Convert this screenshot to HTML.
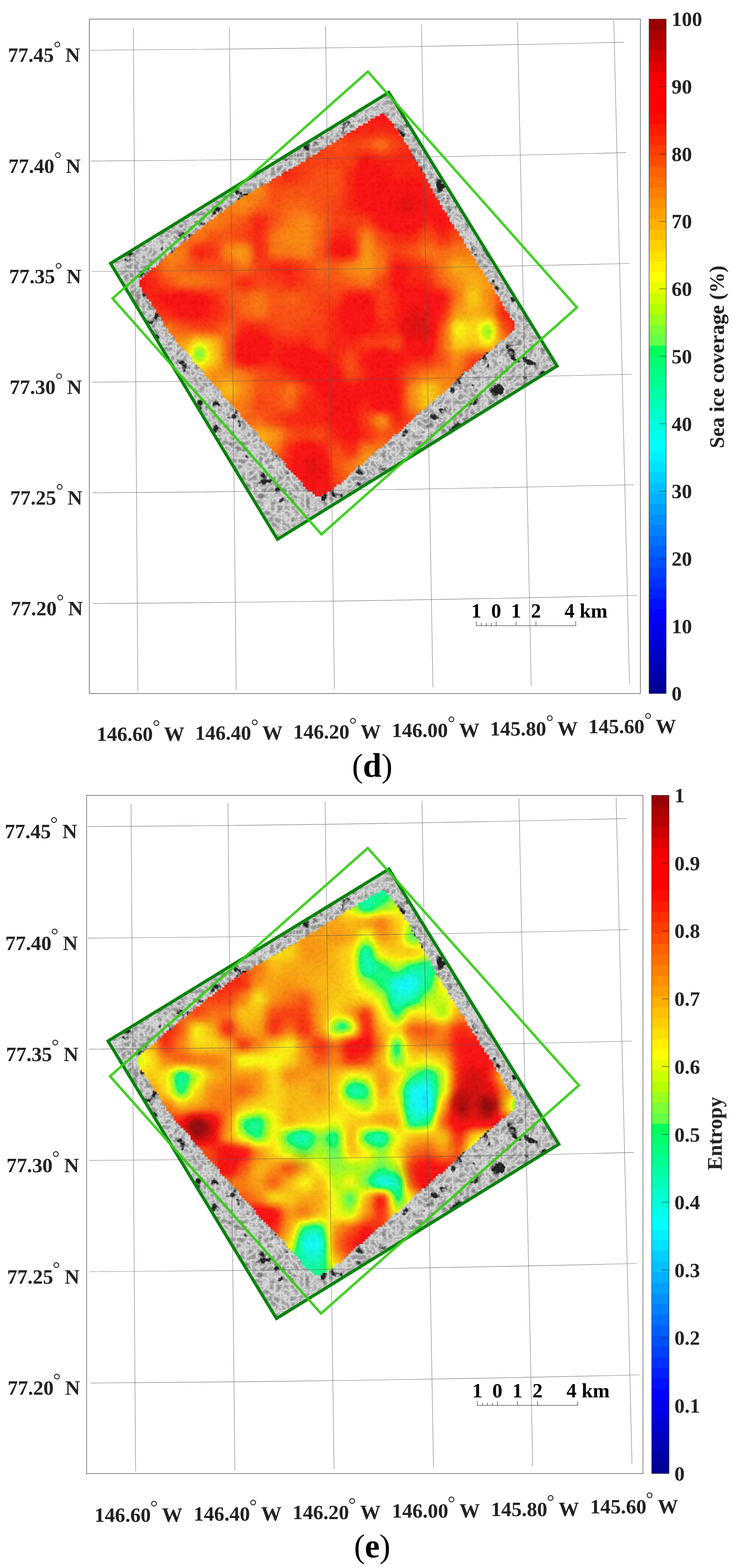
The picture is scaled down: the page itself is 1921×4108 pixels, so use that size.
<!DOCTYPE html>
<html lang="en"><head><meta charset="utf-8"><title>Sea ice coverage and entropy maps</title>
<style>html,body{margin:0;padding:0;background:#fff}body{width:1921px;height:4108px;overflow:hidden}svg{display:block}</style>
</head><body>
<svg width="1921" height="4108" viewBox="0 0 1921 4108" role="img" aria-label="Sea ice coverage and entropy maps">
<defs>
<clipPath id="clipDG"><polygon points="1019.0,242.0 1460.0,959.0 727.0,1413.0 289.8,690.0"/></clipPath>
<clipPath id="clipHM"><rect x="995.4" y="297.9" width="12.6" height="7.5"/><rect x="982.8" y="304.2" width="31.5" height="7.5"/><rect x="970.2" y="310.5" width="50.4" height="7.5"/><rect x="963.9" y="316.8" width="63.0" height="7.5"/><rect x="951.3" y="323.1" width="81.9" height="7.5"/><rect x="938.7" y="329.4" width="94.5" height="7.5"/><rect x="932.4" y="335.7" width="107.1" height="7.5"/><rect x="919.8" y="342.0" width="126.0" height="7.5"/><rect x="907.2" y="348.3" width="138.6" height="7.5"/><rect x="900.9" y="354.6" width="151.2" height="7.5"/><rect x="888.3" y="360.9" width="170.1" height="7.5"/><rect x="882.0" y="367.2" width="176.4" height="7.5"/><rect x="869.4" y="373.5" width="195.3" height="7.5"/><rect x="856.8" y="379.8" width="214.2" height="7.5"/><rect x="850.5" y="386.1" width="220.5" height="7.5"/><rect x="837.9" y="392.4" width="239.4" height="7.5"/><rect x="831.6" y="398.7" width="245.7" height="7.5"/><rect x="819.0" y="405.0" width="264.6" height="7.5"/><rect x="806.4" y="411.3" width="277.2" height="7.5"/><rect x="800.1" y="417.6" width="289.8" height="7.5"/><rect x="787.5" y="423.9" width="308.7" height="7.5"/><rect x="781.2" y="430.2" width="315.0" height="7.5"/><rect x="768.6" y="436.5" width="333.9" height="7.5"/><rect x="756.0" y="442.8" width="346.5" height="7.5"/><rect x="743.4" y="449.1" width="365.4" height="7.5"/><rect x="737.1" y="455.4" width="378.0" height="7.5"/><rect x="724.5" y="461.7" width="390.6" height="7.5"/><rect x="711.9" y="468.0" width="409.5" height="7.5"/><rect x="705.6" y="474.3" width="415.8" height="7.5"/><rect x="693.0" y="480.6" width="434.7" height="7.5"/><rect x="680.4" y="486.9" width="447.3" height="7.5"/><rect x="667.8" y="493.2" width="466.2" height="7.5"/><rect x="661.5" y="499.5" width="472.5" height="7.5"/><rect x="648.9" y="505.8" width="491.4" height="7.5"/><rect x="636.3" y="512.1" width="504.0" height="7.5"/><rect x="630.0" y="518.4" width="516.6" height="7.5"/><rect x="617.4" y="524.7" width="535.5" height="7.5"/><rect x="611.1" y="531.0" width="541.8" height="7.5"/><rect x="598.5" y="537.3" width="560.7" height="7.5"/><rect x="592.2" y="543.6" width="567.0" height="7.5"/><rect x="585.9" y="549.9" width="579.6" height="7.5"/><rect x="573.3" y="556.2" width="598.5" height="7.5"/><rect x="567.0" y="562.5" width="604.8" height="7.5"/><rect x="560.7" y="568.8" width="617.4" height="7.5"/><rect x="548.1" y="575.0" width="630.0" height="7.5"/><rect x="541.8" y="581.3" width="642.6" height="7.5"/><rect x="535.5" y="587.6" width="655.2" height="7.5"/><rect x="529.2" y="593.9" width="661.5" height="7.5"/><rect x="516.6" y="600.2" width="680.4" height="7.5"/><rect x="510.3" y="606.5" width="693.0" height="7.5"/><rect x="504.0" y="612.8" width="699.3" height="7.5"/><rect x="497.7" y="619.1" width="711.9" height="7.5"/><rect x="491.4" y="625.4" width="724.5" height="7.5"/><rect x="478.8" y="631.7" width="737.1" height="7.5"/><rect x="472.5" y="638.0" width="749.7" height="7.5"/><rect x="466.2" y="644.3" width="756.0" height="7.5"/><rect x="459.9" y="650.6" width="768.6" height="7.5"/><rect x="453.6" y="656.9" width="781.2" height="7.5"/><rect x="441.0" y="663.2" width="793.8" height="7.5"/><rect x="434.7" y="669.5" width="806.4" height="7.5"/><rect x="428.4" y="675.8" width="819.0" height="7.5"/><rect x="422.1" y="682.1" width="825.3" height="7.5"/><rect x="415.8" y="688.4" width="837.9" height="7.5"/><rect x="409.5" y="694.7" width="844.2" height="7.5"/><rect x="396.9" y="701.0" width="863.1" height="7.5"/><rect x="390.6" y="707.3" width="875.7" height="7.5"/><rect x="384.3" y="713.6" width="882.0" height="7.5"/><rect x="378.0" y="719.9" width="894.6" height="7.5"/><rect x="371.7" y="726.2" width="907.2" height="7.5"/><rect x="365.4" y="732.5" width="913.5" height="7.5"/><rect x="365.4" y="738.8" width="919.8" height="7.5"/><rect x="365.4" y="745.1" width="926.1" height="7.5"/><rect x="371.7" y="751.4" width="919.8" height="7.5"/><rect x="371.7" y="757.7" width="926.1" height="7.5"/><rect x="378.0" y="764.0" width="919.8" height="7.5"/><rect x="384.3" y="770.3" width="919.8" height="7.5"/><rect x="384.3" y="776.6" width="926.1" height="7.5"/><rect x="390.6" y="782.9" width="919.8" height="7.5"/><rect x="396.9" y="789.2" width="919.8" height="7.5"/><rect x="396.9" y="795.5" width="919.8" height="7.5"/><rect x="403.2" y="801.8" width="919.8" height="7.5"/><rect x="409.5" y="808.1" width="913.5" height="7.5"/><rect x="409.5" y="814.4" width="919.8" height="7.5"/><rect x="415.8" y="820.7" width="919.8" height="7.5"/><rect x="422.1" y="827.0" width="913.5" height="7.5"/><rect x="422.1" y="833.3" width="919.8" height="7.5"/><rect x="428.4" y="839.6" width="919.8" height="7.5"/><rect x="428.4" y="845.9" width="919.8" height="7.5"/><rect x="434.7" y="852.2" width="913.5" height="7.5"/><rect x="441.0" y="858.5" width="907.2" height="7.5"/><rect x="441.0" y="864.8" width="900.9" height="7.5"/><rect x="447.3" y="871.1" width="888.3" height="7.5"/><rect x="453.6" y="877.4" width="875.7" height="7.5"/><rect x="459.9" y="883.7" width="863.1" height="7.5"/><rect x="459.9" y="890.0" width="850.5" height="7.5"/><rect x="466.2" y="896.3" width="837.9" height="7.5"/><rect x="472.5" y="902.6" width="825.3" height="7.5"/><rect x="478.8" y="908.9" width="812.7" height="7.5"/><rect x="485.1" y="915.2" width="800.1" height="7.5"/><rect x="491.4" y="921.5" width="781.2" height="7.5"/><rect x="497.7" y="927.8" width="768.6" height="7.5"/><rect x="504.0" y="934.1" width="756.0" height="7.5"/><rect x="504.0" y="940.4" width="749.7" height="7.5"/><rect x="510.3" y="946.7" width="737.1" height="7.5"/><rect x="516.6" y="953.0" width="724.5" height="7.5"/><rect x="522.9" y="959.3" width="711.9" height="7.5"/><rect x="529.2" y="965.6" width="699.3" height="7.5"/><rect x="535.5" y="971.9" width="680.4" height="7.5"/><rect x="535.5" y="978.2" width="674.1" height="7.5"/><rect x="541.8" y="984.5" width="661.5" height="7.5"/><rect x="548.1" y="990.8" width="648.9" height="7.5"/><rect x="554.4" y="997.1" width="636.3" height="7.5"/><rect x="560.7" y="1003.4" width="623.7" height="7.5"/><rect x="567.0" y="1009.7" width="611.1" height="7.5"/><rect x="573.3" y="1016.0" width="598.5" height="7.5"/><rect x="579.6" y="1022.3" width="585.9" height="7.5"/><rect x="579.6" y="1028.6" width="579.6" height="7.5"/><rect x="585.9" y="1034.9" width="560.7" height="7.5"/><rect x="592.2" y="1041.2" width="548.1" height="7.5"/><rect x="598.5" y="1047.5" width="535.5" height="7.5"/><rect x="604.8" y="1053.8" width="522.9" height="7.5"/><rect x="611.1" y="1060.1" width="510.3" height="7.5"/><rect x="617.4" y="1066.4" width="497.7" height="7.5"/><rect x="623.7" y="1072.7" width="478.8" height="7.5"/><rect x="630.0" y="1079.0" width="466.2" height="7.5"/><rect x="630.0" y="1085.3" width="459.9" height="7.5"/><rect x="636.3" y="1091.6" width="447.3" height="7.5"/><rect x="642.6" y="1097.9" width="434.7" height="7.5"/><rect x="648.9" y="1104.2" width="422.1" height="7.5"/><rect x="655.2" y="1110.5" width="409.5" height="7.5"/><rect x="661.5" y="1116.8" width="396.9" height="7.5"/><rect x="667.8" y="1123.1" width="384.3" height="7.5"/><rect x="674.1" y="1129.4" width="371.7" height="7.5"/><rect x="674.1" y="1135.7" width="359.1" height="7.5"/><rect x="680.4" y="1142.0" width="346.5" height="7.5"/><rect x="686.7" y="1148.3" width="333.9" height="7.5"/><rect x="693.0" y="1154.6" width="321.3" height="7.5"/><rect x="699.3" y="1160.9" width="308.7" height="7.5"/><rect x="705.6" y="1167.2" width="296.1" height="7.5"/><rect x="711.9" y="1173.5" width="277.2" height="7.5"/><rect x="718.2" y="1179.8" width="264.6" height="7.5"/><rect x="724.5" y="1186.1" width="252.0" height="7.5"/><rect x="730.8" y="1192.4" width="239.4" height="7.5"/><rect x="737.1" y="1198.7" width="226.8" height="7.5"/><rect x="743.4" y="1205.0" width="214.2" height="7.5"/><rect x="749.7" y="1211.3" width="201.6" height="7.5"/><rect x="749.7" y="1217.6" width="189.0" height="7.5"/><rect x="756.0" y="1223.9" width="176.4" height="7.5"/><rect x="762.3" y="1230.2" width="163.8" height="7.5"/><rect x="768.6" y="1236.5" width="151.2" height="7.5"/><rect x="774.9" y="1242.8" width="138.6" height="7.5"/><rect x="781.2" y="1249.1" width="126.0" height="7.5"/><rect x="787.5" y="1255.4" width="113.4" height="7.5"/><rect x="793.8" y="1261.7" width="100.8" height="7.5"/><rect x="793.8" y="1268.0" width="88.2" height="7.5"/><rect x="800.1" y="1274.3" width="75.6" height="7.5"/><rect x="806.4" y="1280.6" width="63.0" height="7.5"/><rect x="819.0" y="1286.9" width="37.8" height="7.5"/><rect x="825.3" y="1293.2" width="18.9" height="7.5"/></clipPath>
<filter id="jet" x="0" y="0" width="100%" height="100%" filterUnits="objectBoundingBox" color-interpolation-filters="sRGB">
<feGaussianBlur stdDeviation="13"/>
<feComponentTransfer><feFuncR type="table" tableValues="0.000 0.000 0.000 0.000 0.000 0.000 0.000 0.000 0.000 0.000 0.000 0.000 0.000 0.000 0.000 0.000 0.000 0.000 0.000 0.000 0.000 0.000 0.000 0.000 0.000 0.000 0.000 0.000 0.000 0.000 0.000 0.000 0.000 0.392 0.490 0.608 0.706 0.804 0.910 1.000 1.000 1.000 1.000 1.000 1.000 1.000 1.000 1.000 1.000 1.000 1.000 1.000 1.000 1.000 1.000 1.000 1.000 1.000 0.961 0.871 0.804 0.725 0.667 0.588"/><feFuncG type="table" tableValues="0.000 0.000 0.000 0.000 0.000 0.000 0.000 0.000 0.063 0.125 0.188 0.251 0.314 0.376 0.439 0.502 0.565 0.627 0.690 0.753 0.816 0.878 0.941 1.000 1.000 1.000 1.000 1.000 1.000 1.000 1.000 1.000 1.000 1.000 1.000 1.000 1.000 1.000 1.000 1.000 0.941 0.878 0.816 0.753 0.690 0.627 0.565 0.502 0.439 0.376 0.298 0.235 0.173 0.110 0.047 0.000 0.000 0.000 0.000 0.000 0.000 0.000 0.000 0.000"/><feFuncB type="table" tableValues="0.588 0.647 0.706 0.765 0.824 0.882 0.941 1.000 1.000 1.000 1.000 1.000 1.000 1.000 1.000 1.000 1.000 1.000 1.000 1.000 1.000 1.000 1.000 1.000 0.929 0.859 0.788 0.718 0.647 0.576 0.506 0.435 0.365 0.275 0.216 0.118 0.000 0.000 0.000 0.000 0.000 0.000 0.000 0.000 0.000 0.000 0.000 0.000 0.000 0.000 0.000 0.000 0.000 0.000 0.000 0.000 0.000 0.000 0.000 0.000 0.000 0.000 0.000 0.000"/><feFuncA type="linear" slope="0" intercept="1"/></feComponentTransfer>
</filter>
<filter id="sar" x="0" y="0" width="100%" height="100%" color-interpolation-filters="sRGB">
<feTurbulence type="turbulence" baseFrequency="0.065" numOctaves="4" seed="5" result="t"/>
<feColorMatrix in="t" type="matrix" values="-0.56 0 0 0 0.915  -0.56 0 0 0 0.915  -0.56 0 0 0 0.915  0 0 0 0 1" result="ice"/>
<feTurbulence type="fractalNoise" baseFrequency="0.028" numOctaves="4" seed="23" result="n"/>
<feColorMatrix in="n" type="matrix" values="0 0 0 0 0.13  0 0 0 0 0.13  0 0 0 0 0.13  0 10 0 0 -6.5" result="lead"/>
<feMerge><feMergeNode in="ice"/><feMergeNode in="lead"/></feMerge>
</filter>
<filter id="ice" x="0" y="0" width="100%" height="100%" color-interpolation-filters="sRGB">
<feTurbulence type="turbulence" baseFrequency="0.065" numOctaves="4" seed="5"/>
<feColorMatrix type="matrix" values="-0.56 0 0 0 0.915  -0.56 0 0 0 0.915  -0.56 0 0 0 0.915  0 0 0 0 1"/>
</filter>
<filter id="soft" x="-20%" y="-20%" width="140%" height="140%"><feGaussianBlur stdDeviation="9"/></filter>
<filter id="tex" x="0" y="0" width="100%" height="100%" color-interpolation-filters="sRGB">
<feTurbulence type="turbulence" baseFrequency="0.05" numOctaves="3" seed="9" result="t"/>
<feColorMatrix in="t" type="matrix" values="0 0 0 0 0.3  0 0 0 0 0.12  0 0 0 0 0.05  2.2 0 0 0 -0.45"/>
</filter>
</defs>
<rect width="1921" height="4108" fill="#fff"/>
<g transform="matrix(1 0 0 1 0 0)">
<g clip-path="url(#clipDG)">
<rect x="280" y="230" width="1190" height="1190" fill="#b4b4b4"/>
<rect x="280" y="230" width="1190" height="1190" filter="url(#sar)"/>

</g>
<g clip-path="url(#clipHM)"><rect x="300" y="240" width="1110" height="1120" filter="url(#ice)"/></g>
<g clip-path="url(#clipHM)" opacity="0.89">
<g filter="url(#jet)">
<rect x="300" y="240" width="1110" height="1120" fill="#d1d1d1"/>
<rect x="620" y="240" width="121" height="41" fill="#d1d1d1"/>
<rect x="740" y="240" width="41" height="41" fill="#cccccc"/>
<rect x="780" y="240" width="41" height="41" fill="#d4d4d4"/>
<rect x="820" y="240" width="81" height="41" fill="#d9d9d9"/>
<rect x="900" y="240" width="41" height="41" fill="#dbdbdb"/>
<rect x="940" y="240" width="121" height="41" fill="#e0e0e0"/>
<rect x="1060" y="240" width="41" height="41" fill="#dbdbdb"/>
<rect x="1100" y="240" width="161" height="41" fill="#d9d9d9"/>
<rect x="540" y="280" width="41" height="41" fill="#d1d1d1"/>
<rect x="580" y="280" width="81" height="41" fill="#d4d4d4"/>
<rect x="660" y="280" width="121" height="41" fill="#d1d1d1"/>
<rect x="780" y="280" width="41" height="41" fill="#cccccc"/>
<rect x="820" y="280" width="41" height="41" fill="#d4d4d4"/>
<rect x="860" y="280" width="81" height="41" fill="#d9d9d9"/>
<rect x="940" y="280" width="41" height="41" fill="#dbdbdb"/>
<rect x="980" y="280" width="41" height="41" fill="#e0e0e0"/>
<rect x="1020" y="280" width="41" height="41" fill="#dbdbdb"/>
<rect x="1060" y="280" width="241" height="41" fill="#d9d9d9"/>
<rect x="500" y="320" width="41" height="41" fill="#bdbdbd"/>
<rect x="540" y="320" width="41" height="41" fill="#c7c7c7"/>
<rect x="580" y="320" width="41" height="41" fill="#d1d1d1"/>
<rect x="620" y="320" width="81" height="41" fill="#d4d4d4"/>
<rect x="700" y="320" width="121" height="41" fill="#d1d1d1"/>
<rect x="820" y="320" width="41" height="41" fill="#cccccc"/>
<rect x="860" y="320" width="41" height="41" fill="#d4d4d4"/>
<rect x="900" y="320" width="161" height="41" fill="#d9d9d9"/>
<rect x="1060" y="320" width="41" height="41" fill="#d6d6d6"/>
<rect x="1100" y="320" width="241" height="41" fill="#d9d9d9"/>
<rect x="420" y="360" width="121" height="41" fill="#bfbfbf"/>
<rect x="540" y="360" width="41" height="41" fill="#bdbdbd"/>
<rect x="580" y="360" width="41" height="41" fill="#c7c7c7"/>
<rect x="620" y="360" width="41" height="41" fill="#d1d1d1"/>
<rect x="660" y="360" width="81" height="41" fill="#d4d4d4"/>
<rect x="740" y="360" width="121" height="41" fill="#d1d1d1"/>
<rect x="860" y="360" width="41" height="41" fill="#cccccc"/>
<rect x="900" y="360" width="41" height="41" fill="#d1d1d1"/>
<rect x="940" y="360" width="41" height="41" fill="#cccccc"/>
<rect x="980" y="360" width="41" height="41" fill="#c2c2c2"/>
<rect x="1020" y="360" width="41" height="41" fill="#d1d1d1"/>
<rect x="1060" y="360" width="281" height="41" fill="#d9d9d9"/>
<rect x="380" y="400" width="201" height="41" fill="#bfbfbf"/>
<rect x="580" y="400" width="41" height="41" fill="#bdbdbd"/>
<rect x="620" y="400" width="41" height="41" fill="#c9c9c9"/>
<rect x="660" y="400" width="41" height="41" fill="#d1d1d1"/>
<rect x="700" y="400" width="41" height="41" fill="#d6d6d6"/>
<rect x="740" y="400" width="41" height="41" fill="#d4d4d4"/>
<rect x="780" y="400" width="161" height="41" fill="#d1d1d1"/>
<rect x="940" y="400" width="41" height="41" fill="#e0e0e0"/>
<rect x="980" y="400" width="401" height="41" fill="#d9d9d9"/>
<rect x="340" y="440" width="81" height="41" fill="#c2c2c2"/>
<rect x="420" y="440" width="201" height="41" fill="#bfbfbf"/>
<rect x="620" y="440" width="41" height="41" fill="#bdbdbd"/>
<rect x="660" y="440" width="41" height="41" fill="#c9c9c9"/>
<rect x="700" y="440" width="41" height="41" fill="#d1d1d1"/>
<rect x="740" y="440" width="41" height="41" fill="#d9d9d9"/>
<rect x="780" y="440" width="41" height="41" fill="#d1d1d1"/>
<rect x="820" y="440" width="81" height="41" fill="#cccccc"/>
<rect x="900" y="440" width="41" height="41" fill="#d9d9d9"/>
<rect x="940" y="440" width="41" height="41" fill="#e6e6e6"/>
<rect x="980" y="440" width="41" height="41" fill="#e0e0e0"/>
<rect x="1020" y="440" width="361" height="41" fill="#d9d9d9"/>
<rect x="300" y="480" width="41" height="41" fill="#bdbdbd"/>
<rect x="340" y="480" width="41" height="41" fill="#bfbfbf"/>
<rect x="380" y="480" width="81" height="41" fill="#c2c2c2"/>
<rect x="460" y="480" width="121" height="41" fill="#bfbfbf"/>
<rect x="580" y="480" width="41" height="41" fill="#bdbdbd"/>
<rect x="620" y="480" width="41" height="41" fill="#bfbfbf"/>
<rect x="660" y="480" width="41" height="41" fill="#bdbdbd"/>
<rect x="700" y="480" width="41" height="41" fill="#cfcfcf"/>
<rect x="740" y="480" width="161" height="41" fill="#cccccc"/>
<rect x="900" y="480" width="41" height="41" fill="#d9d9d9"/>
<rect x="940" y="480" width="41" height="41" fill="#e6e6e6"/>
<rect x="980" y="480" width="81" height="41" fill="#e0e0e0"/>
<rect x="1060" y="480" width="41" height="41" fill="#e6e6e6"/>
<rect x="1100" y="480" width="201" height="41" fill="#d9d9d9"/>
<rect x="1300" y="480" width="41" height="41" fill="#d6d6d6"/>
<rect x="1340" y="480" width="41" height="41" fill="#d1d1d1"/>
<rect x="1380" y="480" width="41" height="41" fill="#c2c2c2"/>
<rect x="300" y="520" width="81" height="41" fill="#bdbdbd"/>
<rect x="380" y="520" width="41" height="41" fill="#bfbfbf"/>
<rect x="420" y="520" width="81" height="41" fill="#c2c2c2"/>
<rect x="500" y="520" width="41" height="41" fill="#bfbfbf"/>
<rect x="540" y="520" width="41" height="41" fill="#c2c2c2"/>
<rect x="580" y="520" width="41" height="41" fill="#bfbfbf"/>
<rect x="620" y="520" width="41" height="41" fill="#bdbdbd"/>
<rect x="660" y="520" width="41" height="41" fill="#c7c7c7"/>
<rect x="700" y="520" width="41" height="41" fill="#cccccc"/>
<rect x="740" y="520" width="81" height="41" fill="#c7c7c7"/>
<rect x="820" y="520" width="41" height="41" fill="#cccccc"/>
<rect x="860" y="520" width="41" height="41" fill="#d1d1d1"/>
<rect x="900" y="520" width="41" height="41" fill="#d9d9d9"/>
<rect x="940" y="520" width="81" height="41" fill="#e0e0e0"/>
<rect x="1020" y="520" width="81" height="41" fill="#ebebeb"/>
<rect x="1100" y="520" width="41" height="41" fill="#e0e0e0"/>
<rect x="1140" y="520" width="41" height="41" fill="#d9d9d9"/>
<rect x="1180" y="520" width="41" height="41" fill="#dbdbdb"/>
<rect x="1220" y="520" width="41" height="41" fill="#d9d9d9"/>
<rect x="1260" y="520" width="41" height="41" fill="#d6d6d6"/>
<rect x="1300" y="520" width="41" height="41" fill="#cfcfcf"/>
<rect x="1340" y="520" width="41" height="41" fill="#c2c2c2"/>
<rect x="1380" y="520" width="41" height="41" fill="#bfbfbf"/>
<rect x="1420" y="520" width="41" height="41" fill="#bdbdbd"/>
<rect x="300" y="560" width="41" height="41" fill="#c7c7c7"/>
<rect x="340" y="560" width="81" height="41" fill="#bdbdbd"/>
<rect x="420" y="560" width="81" height="41" fill="#c2c2c2"/>
<rect x="500" y="560" width="41" height="41" fill="#c4c4c4"/>
<rect x="540" y="560" width="41" height="41" fill="#bfbfbf"/>
<rect x="580" y="560" width="41" height="41" fill="#c7c7c7"/>
<rect x="620" y="560" width="41" height="41" fill="#cccccc"/>
<rect x="660" y="560" width="41" height="41" fill="#dbdbdb"/>
<rect x="700" y="560" width="41" height="41" fill="#cccccc"/>
<rect x="740" y="560" width="41" height="41" fill="#c2c2c2"/>
<rect x="780" y="560" width="41" height="41" fill="#bdbdbd"/>
<rect x="820" y="560" width="41" height="41" fill="#c7c7c7"/>
<rect x="860" y="560" width="121" height="41" fill="#d1d1d1"/>
<rect x="980" y="560" width="41" height="41" fill="#e0e0e0"/>
<rect x="1020" y="560" width="81" height="41" fill="#e6e6e6"/>
<rect x="1100" y="560" width="41" height="41" fill="#d9d9d9"/>
<rect x="1140" y="560" width="41" height="41" fill="#e0e0e0"/>
<rect x="1180" y="560" width="41" height="41" fill="#d9d9d9"/>
<rect x="1220" y="560" width="41" height="41" fill="#d1d1d1"/>
<rect x="1260" y="560" width="41" height="41" fill="#cfcfcf"/>
<rect x="1300" y="560" width="41" height="41" fill="#c2c2c2"/>
<rect x="1340" y="560" width="41" height="41" fill="#bfbfbf"/>
<rect x="1380" y="560" width="81" height="41" fill="#bdbdbd"/>
<rect x="300" y="600" width="41" height="41" fill="#d1d1d1"/>
<rect x="340" y="600" width="41" height="41" fill="#c7c7c7"/>
<rect x="380" y="600" width="41" height="41" fill="#bdbdbd"/>
<rect x="420" y="600" width="41" height="41" fill="#bfbfbf"/>
<rect x="460" y="600" width="41" height="41" fill="#c7c7c7"/>
<rect x="500" y="600" width="41" height="41" fill="#c2c2c2"/>
<rect x="540" y="600" width="81" height="41" fill="#cccccc"/>
<rect x="620" y="600" width="41" height="41" fill="#d1d1d1"/>
<rect x="660" y="600" width="41" height="41" fill="#d9d9d9"/>
<rect x="700" y="600" width="41" height="41" fill="#c2c2c2"/>
<rect x="740" y="600" width="81" height="41" fill="#bdbdbd"/>
<rect x="820" y="600" width="41" height="41" fill="#c7c7c7"/>
<rect x="860" y="600" width="81" height="41" fill="#d9d9d9"/>
<rect x="940" y="600" width="41" height="41" fill="#bdbdbd"/>
<rect x="980" y="600" width="41" height="41" fill="#d1d1d1"/>
<rect x="1020" y="600" width="81" height="41" fill="#d9d9d9"/>
<rect x="1100" y="600" width="41" height="41" fill="#cccccc"/>
<rect x="1140" y="600" width="41" height="41" fill="#d9d9d9"/>
<rect x="1180" y="600" width="41" height="41" fill="#cccccc"/>
<rect x="1220" y="600" width="41" height="41" fill="#c9c9c9"/>
<rect x="1260" y="600" width="41" height="41" fill="#c2c2c2"/>
<rect x="1300" y="600" width="41" height="41" fill="#bfbfbf"/>
<rect x="1340" y="600" width="81" height="41" fill="#bdbdbd"/>
<rect x="1420" y="600" width="41" height="41" fill="#c4c4c4"/>
<rect x="1460" y="600" width="41" height="41" fill="#d1d1d1"/>
<rect x="300" y="640" width="41" height="41" fill="#d9d9d9"/>
<rect x="340" y="640" width="41" height="41" fill="#d1d1d1"/>
<rect x="380" y="640" width="41" height="41" fill="#c7c7c7"/>
<rect x="420" y="640" width="41" height="41" fill="#bdbdbd"/>
<rect x="460" y="640" width="41" height="41" fill="#c2c2c2"/>
<rect x="500" y="640" width="41" height="41" fill="#dbdbdb"/>
<rect x="540" y="640" width="41" height="41" fill="#d6d6d6"/>
<rect x="580" y="640" width="41" height="41" fill="#bdbdbd"/>
<rect x="620" y="640" width="41" height="41" fill="#b5b5b5"/>
<rect x="660" y="640" width="41" height="41" fill="#d9d9d9"/>
<rect x="700" y="640" width="81" height="41" fill="#c2c2c2"/>
<rect x="780" y="640" width="41" height="41" fill="#bdbdbd"/>
<rect x="820" y="640" width="41" height="41" fill="#cccccc"/>
<rect x="860" y="640" width="81" height="41" fill="#e0e0e0"/>
<rect x="940" y="640" width="41" height="41" fill="#b8b8b8"/>
<rect x="980" y="640" width="41" height="41" fill="#c7c7c7"/>
<rect x="1020" y="640" width="41" height="41" fill="#d1d1d1"/>
<rect x="1060" y="640" width="41" height="41" fill="#cccccc"/>
<rect x="1100" y="640" width="41" height="41" fill="#c2c2c2"/>
<rect x="1140" y="640" width="41" height="41" fill="#c7c7c7"/>
<rect x="1180" y="640" width="81" height="41" fill="#c2c2c2"/>
<rect x="1260" y="640" width="81" height="41" fill="#bdbdbd"/>
<rect x="1340" y="640" width="41" height="41" fill="#bababa"/>
<rect x="1380" y="640" width="41" height="41" fill="#c4c4c4"/>
<rect x="1420" y="640" width="41" height="41" fill="#d1d1d1"/>
<rect x="1460" y="640" width="41" height="41" fill="#d4d4d4"/>
<rect x="300" y="680" width="41" height="41" fill="#e0e0e0"/>
<rect x="340" y="680" width="41" height="41" fill="#d9d9d9"/>
<rect x="380" y="680" width="41" height="41" fill="#d1d1d1"/>
<rect x="420" y="680" width="41" height="41" fill="#c2c2c2"/>
<rect x="460" y="680" width="41" height="41" fill="#c7c7c7"/>
<rect x="500" y="680" width="121" height="41" fill="#cccccc"/>
<rect x="620" y="680" width="41" height="41" fill="#c2c2c2"/>
<rect x="660" y="680" width="41" height="41" fill="#d1d1d1"/>
<rect x="700" y="680" width="81" height="41" fill="#d9d9d9"/>
<rect x="780" y="680" width="41" height="41" fill="#d1d1d1"/>
<rect x="820" y="680" width="81" height="41" fill="#c7c7c7"/>
<rect x="900" y="680" width="41" height="41" fill="#bdbdbd"/>
<rect x="940" y="680" width="41" height="41" fill="#b8b8b8"/>
<rect x="980" y="680" width="41" height="41" fill="#c2c2c2"/>
<rect x="1020" y="680" width="41" height="41" fill="#e0e0e0"/>
<rect x="1060" y="680" width="41" height="41" fill="#d9d9d9"/>
<rect x="1100" y="680" width="41" height="41" fill="#d1d1d1"/>
<rect x="1140" y="680" width="41" height="41" fill="#c2c2c2"/>
<rect x="1180" y="680" width="41" height="41" fill="#b2b2b2"/>
<rect x="1220" y="680" width="41" height="41" fill="#b8b8b8"/>
<rect x="1260" y="680" width="41" height="41" fill="#bdbdbd"/>
<rect x="1300" y="680" width="41" height="41" fill="#bababa"/>
<rect x="1340" y="680" width="41" height="41" fill="#c2c2c2"/>
<rect x="1380" y="680" width="41" height="41" fill="#d1d1d1"/>
<rect x="1420" y="680" width="41" height="41" fill="#d4d4d4"/>
<rect x="1460" y="680" width="41" height="41" fill="#d6d6d6"/>
<rect x="1500" y="680" width="41" height="41" fill="#e0e0e0"/>
<rect x="300" y="720" width="81" height="41" fill="#e0e0e0"/>
<rect x="380" y="720" width="41" height="41" fill="#d9d9d9"/>
<rect x="420" y="720" width="41" height="41" fill="#cccccc"/>
<rect x="460" y="720" width="81" height="41" fill="#c2c2c2"/>
<rect x="540" y="720" width="41" height="41" fill="#c7c7c7"/>
<rect x="580" y="720" width="41" height="41" fill="#cccccc"/>
<rect x="620" y="720" width="41" height="41" fill="#d9d9d9"/>
<rect x="660" y="720" width="81" height="41" fill="#d1d1d1"/>
<rect x="740" y="720" width="41" height="41" fill="#d9d9d9"/>
<rect x="780" y="720" width="41" height="41" fill="#d1d1d1"/>
<rect x="820" y="720" width="81" height="41" fill="#cccccc"/>
<rect x="900" y="720" width="41" height="41" fill="#c7c7c7"/>
<rect x="940" y="720" width="41" height="41" fill="#c2c2c2"/>
<rect x="980" y="720" width="41" height="41" fill="#d1d1d1"/>
<rect x="1020" y="720" width="41" height="41" fill="#e0e0e0"/>
<rect x="1060" y="720" width="81" height="41" fill="#d9d9d9"/>
<rect x="1140" y="720" width="41" height="41" fill="#c7c7c7"/>
<rect x="1180" y="720" width="41" height="41" fill="#bdbdbd"/>
<rect x="1220" y="720" width="41" height="41" fill="#b2b2b2"/>
<rect x="1260" y="720" width="41" height="41" fill="#b8b8b8"/>
<rect x="1300" y="720" width="41" height="41" fill="#c2c2c2"/>
<rect x="1340" y="720" width="41" height="41" fill="#d1d1d1"/>
<rect x="1380" y="720" width="41" height="41" fill="#d4d4d4"/>
<rect x="1420" y="720" width="41" height="41" fill="#d6d6d6"/>
<rect x="1460" y="720" width="81" height="41" fill="#e0e0e0"/>
<rect x="300" y="760" width="41" height="41" fill="#e0e0e0"/>
<rect x="340" y="760" width="81" height="41" fill="#d9d9d9"/>
<rect x="420" y="760" width="41" height="41" fill="#e0e0e0"/>
<rect x="460" y="760" width="41" height="41" fill="#e6e6e6"/>
<rect x="500" y="760" width="41" height="41" fill="#e0e0e0"/>
<rect x="540" y="760" width="41" height="41" fill="#d9d9d9"/>
<rect x="580" y="760" width="41" height="41" fill="#cccccc"/>
<rect x="620" y="760" width="41" height="41" fill="#c7c7c7"/>
<rect x="660" y="760" width="41" height="41" fill="#c2c2c2"/>
<rect x="700" y="760" width="41" height="41" fill="#cccccc"/>
<rect x="740" y="760" width="41" height="41" fill="#c7c7c7"/>
<rect x="780" y="760" width="41" height="41" fill="#cccccc"/>
<rect x="820" y="760" width="81" height="41" fill="#d1d1d1"/>
<rect x="900" y="760" width="81" height="41" fill="#e0e0e0"/>
<rect x="980" y="760" width="41" height="41" fill="#d1d1d1"/>
<rect x="1020" y="760" width="41" height="41" fill="#d9d9d9"/>
<rect x="1060" y="760" width="41" height="41" fill="#e6e6e6"/>
<rect x="1100" y="760" width="81" height="41" fill="#e0e0e0"/>
<rect x="1180" y="760" width="41" height="41" fill="#c2c2c2"/>
<rect x="1220" y="760" width="41" height="41" fill="#a8a8a8"/>
<rect x="1260" y="760" width="41" height="41" fill="#bdbdbd"/>
<rect x="1300" y="760" width="41" height="41" fill="#d1d1d1"/>
<rect x="1340" y="760" width="81" height="41" fill="#d6d6d6"/>
<rect x="1420" y="760" width="121" height="41" fill="#e0e0e0"/>
<rect x="300" y="800" width="41" height="41" fill="#d9d9d9"/>
<rect x="340" y="800" width="41" height="41" fill="#d6d6d6"/>
<rect x="380" y="800" width="41" height="41" fill="#d1d1d1"/>
<rect x="420" y="800" width="41" height="41" fill="#d9d9d9"/>
<rect x="460" y="800" width="81" height="41" fill="#e0e0e0"/>
<rect x="540" y="800" width="41" height="41" fill="#d9d9d9"/>
<rect x="580" y="800" width="41" height="41" fill="#d1d1d1"/>
<rect x="620" y="800" width="41" height="41" fill="#c7c7c7"/>
<rect x="660" y="800" width="41" height="41" fill="#c2c2c2"/>
<rect x="700" y="800" width="121" height="41" fill="#cccccc"/>
<rect x="820" y="800" width="41" height="41" fill="#d1d1d1"/>
<rect x="860" y="800" width="41" height="41" fill="#d9d9d9"/>
<rect x="900" y="800" width="81" height="41" fill="#e6e6e6"/>
<rect x="980" y="800" width="41" height="41" fill="#d1d1d1"/>
<rect x="1020" y="800" width="41" height="41" fill="#d9d9d9"/>
<rect x="1060" y="800" width="81" height="41" fill="#ebebeb"/>
<rect x="1140" y="800" width="41" height="41" fill="#d9d9d9"/>
<rect x="1180" y="800" width="41" height="41" fill="#b8b8b8"/>
<rect x="1220" y="800" width="41" height="41" fill="#b2b2b2"/>
<rect x="1260" y="800" width="41" height="41" fill="#b8b8b8"/>
<rect x="1300" y="800" width="41" height="41" fill="#d9d9d9"/>
<rect x="1340" y="800" width="41" height="41" fill="#d6d6d6"/>
<rect x="1380" y="800" width="161" height="41" fill="#e0e0e0"/>
<rect x="300" y="840" width="41" height="41" fill="#d4d4d4"/>
<rect x="340" y="840" width="41" height="41" fill="#d1d1d1"/>
<rect x="380" y="840" width="41" height="41" fill="#cfcfcf"/>
<rect x="420" y="840" width="41" height="41" fill="#c2c2c2"/>
<rect x="460" y="840" width="41" height="41" fill="#cccccc"/>
<rect x="500" y="840" width="81" height="41" fill="#d1d1d1"/>
<rect x="580" y="840" width="41" height="41" fill="#c7c7c7"/>
<rect x="620" y="840" width="81" height="41" fill="#d9d9d9"/>
<rect x="700" y="840" width="41" height="41" fill="#d1d1d1"/>
<rect x="740" y="840" width="41" height="41" fill="#cccccc"/>
<rect x="780" y="840" width="81" height="41" fill="#d1d1d1"/>
<rect x="860" y="840" width="41" height="41" fill="#d9d9d9"/>
<rect x="900" y="840" width="81" height="41" fill="#e0e0e0"/>
<rect x="980" y="840" width="81" height="41" fill="#d9d9d9"/>
<rect x="1060" y="840" width="41" height="41" fill="#ebebeb"/>
<rect x="1100" y="840" width="41" height="41" fill="#f0f0f0"/>
<rect x="1140" y="840" width="41" height="41" fill="#cccccc"/>
<rect x="1180" y="840" width="41" height="41" fill="#9e9e9e"/>
<rect x="1220" y="840" width="41" height="41" fill="#a8a8a8"/>
<rect x="1260" y="840" width="41" height="41" fill="#8f8f8f"/>
<rect x="1300" y="840" width="41" height="41" fill="#cccccc"/>
<rect x="1340" y="840" width="201" height="41" fill="#e0e0e0"/>
<rect x="300" y="880" width="41" height="41" fill="#d1d1d1"/>
<rect x="340" y="880" width="41" height="41" fill="#cccccc"/>
<rect x="380" y="880" width="81" height="41" fill="#c2c2c2"/>
<rect x="460" y="880" width="41" height="41" fill="#b8b8b8"/>
<rect x="500" y="880" width="41" height="41" fill="#a3a3a3"/>
<rect x="540" y="880" width="41" height="41" fill="#adadad"/>
<rect x="580" y="880" width="41" height="41" fill="#cccccc"/>
<rect x="620" y="880" width="81" height="41" fill="#e6e6e6"/>
<rect x="700" y="880" width="121" height="41" fill="#d9d9d9"/>
<rect x="820" y="880" width="41" height="41" fill="#d1d1d1"/>
<rect x="860" y="880" width="81" height="41" fill="#d9d9d9"/>
<rect x="940" y="880" width="81" height="41" fill="#d1d1d1"/>
<rect x="1020" y="880" width="41" height="41" fill="#cccccc"/>
<rect x="1060" y="880" width="41" height="41" fill="#e6e6e6"/>
<rect x="1100" y="880" width="41" height="41" fill="#ebebeb"/>
<rect x="1140" y="880" width="41" height="41" fill="#c7c7c7"/>
<rect x="1180" y="880" width="41" height="41" fill="#a8a8a8"/>
<rect x="1220" y="880" width="41" height="41" fill="#adadad"/>
<rect x="1260" y="880" width="41" height="41" fill="#a3a3a3"/>
<rect x="1300" y="880" width="41" height="41" fill="#bdbdbd"/>
<rect x="1340" y="880" width="41" height="41" fill="#cfcfcf"/>
<rect x="1380" y="880" width="161" height="41" fill="#e0e0e0"/>
<rect x="300" y="920" width="41" height="41" fill="#c9c9c9"/>
<rect x="340" y="920" width="41" height="41" fill="#c2c2c2"/>
<rect x="380" y="920" width="41" height="41" fill="#bfbfbf"/>
<rect x="420" y="920" width="41" height="41" fill="#b8b8b8"/>
<rect x="460" y="920" width="41" height="41" fill="#a8a8a8"/>
<rect x="500" y="920" width="41" height="41" fill="#999999"/>
<rect x="540" y="920" width="41" height="41" fill="#a8a8a8"/>
<rect x="580" y="920" width="41" height="41" fill="#cccccc"/>
<rect x="620" y="920" width="41" height="41" fill="#e6e6e6"/>
<rect x="660" y="920" width="41" height="41" fill="#e0e0e0"/>
<rect x="700" y="920" width="41" height="41" fill="#d9d9d9"/>
<rect x="740" y="920" width="41" height="41" fill="#e6e6e6"/>
<rect x="780" y="920" width="41" height="41" fill="#ebebeb"/>
<rect x="820" y="920" width="41" height="41" fill="#e0e0e0"/>
<rect x="860" y="920" width="41" height="41" fill="#d9d9d9"/>
<rect x="900" y="920" width="41" height="41" fill="#cccccc"/>
<rect x="940" y="920" width="41" height="41" fill="#e0e0e0"/>
<rect x="980" y="920" width="41" height="41" fill="#ebebeb"/>
<rect x="1020" y="920" width="41" height="41" fill="#e0e0e0"/>
<rect x="1060" y="920" width="81" height="41" fill="#d9d9d9"/>
<rect x="1140" y="920" width="41" height="41" fill="#cccccc"/>
<rect x="1180" y="920" width="41" height="41" fill="#bdbdbd"/>
<rect x="1220" y="920" width="41" height="41" fill="#d1d1d1"/>
<rect x="1260" y="920" width="41" height="41" fill="#d9d9d9"/>
<rect x="1300" y="920" width="81" height="41" fill="#bdbdbd"/>
<rect x="1380" y="920" width="41" height="41" fill="#cfcfcf"/>
<rect x="1420" y="920" width="121" height="41" fill="#e0e0e0"/>
<rect x="300" y="960" width="41" height="41" fill="#c2c2c2"/>
<rect x="340" y="960" width="41" height="41" fill="#bdbdbd"/>
<rect x="380" y="960" width="41" height="41" fill="#b8b8b8"/>
<rect x="420" y="960" width="41" height="41" fill="#adadad"/>
<rect x="460" y="960" width="41" height="41" fill="#a3a3a3"/>
<rect x="500" y="960" width="41" height="41" fill="#adadad"/>
<rect x="540" y="960" width="81" height="41" fill="#bdbdbd"/>
<rect x="620" y="960" width="41" height="41" fill="#c2c2c2"/>
<rect x="660" y="960" width="41" height="41" fill="#cccccc"/>
<rect x="700" y="960" width="41" height="41" fill="#d1d1d1"/>
<rect x="740" y="960" width="41" height="41" fill="#d9d9d9"/>
<rect x="780" y="960" width="121" height="41" fill="#e0e0e0"/>
<rect x="900" y="960" width="41" height="41" fill="#cccccc"/>
<rect x="940" y="960" width="41" height="41" fill="#d9d9d9"/>
<rect x="980" y="960" width="41" height="41" fill="#e6e6e6"/>
<rect x="1020" y="960" width="41" height="41" fill="#d9d9d9"/>
<rect x="1060" y="960" width="41" height="41" fill="#cccccc"/>
<rect x="1100" y="960" width="121" height="41" fill="#c2c2c2"/>
<rect x="1220" y="960" width="41" height="41" fill="#d9d9d9"/>
<rect x="1260" y="960" width="41" height="41" fill="#d6d6d6"/>
<rect x="1300" y="960" width="41" height="41" fill="#d9d9d9"/>
<rect x="1340" y="960" width="41" height="41" fill="#c7c7c7"/>
<rect x="1380" y="960" width="41" height="41" fill="#bdbdbd"/>
<rect x="1420" y="960" width="41" height="41" fill="#cfcfcf"/>
<rect x="1460" y="960" width="81" height="41" fill="#e0e0e0"/>
<rect x="300" y="1000" width="41" height="41" fill="#bdbdbd"/>
<rect x="340" y="1000" width="41" height="41" fill="#b8b8b8"/>
<rect x="380" y="1000" width="41" height="41" fill="#adadad"/>
<rect x="420" y="1000" width="41" height="41" fill="#a8a8a8"/>
<rect x="460" y="1000" width="41" height="41" fill="#adadad"/>
<rect x="500" y="1000" width="41" height="41" fill="#b5b5b5"/>
<rect x="540" y="1000" width="41" height="41" fill="#b8b8b8"/>
<rect x="580" y="1000" width="41" height="41" fill="#adadad"/>
<rect x="620" y="1000" width="41" height="41" fill="#bdbdbd"/>
<rect x="660" y="1000" width="81" height="41" fill="#cccccc"/>
<rect x="740" y="1000" width="41" height="41" fill="#c2c2c2"/>
<rect x="780" y="1000" width="41" height="41" fill="#d1d1d1"/>
<rect x="820" y="1000" width="161" height="41" fill="#e0e0e0"/>
<rect x="980" y="1000" width="41" height="41" fill="#e6e6e6"/>
<rect x="1020" y="1000" width="41" height="41" fill="#e0e0e0"/>
<rect x="1060" y="1000" width="41" height="41" fill="#bdbdbd"/>
<rect x="1100" y="1000" width="41" height="41" fill="#a8a8a8"/>
<rect x="1140" y="1000" width="41" height="41" fill="#b8b8b8"/>
<rect x="1180" y="1000" width="41" height="41" fill="#c7c7c7"/>
<rect x="1220" y="1000" width="41" height="41" fill="#cccccc"/>
<rect x="1260" y="1000" width="121" height="41" fill="#d9d9d9"/>
<rect x="1380" y="1000" width="41" height="41" fill="#c9c9c9"/>
<rect x="1420" y="1000" width="41" height="41" fill="#bdbdbd"/>
<rect x="1460" y="1000" width="41" height="41" fill="#cfcfcf"/>
<rect x="1500" y="1000" width="41" height="41" fill="#e0e0e0"/>
<rect x="300" y="1040" width="41" height="41" fill="#b8b8b8"/>
<rect x="340" y="1040" width="41" height="41" fill="#b0b0b0"/>
<rect x="380" y="1040" width="41" height="41" fill="#ababab"/>
<rect x="420" y="1040" width="41" height="41" fill="#adadad"/>
<rect x="460" y="1040" width="41" height="41" fill="#b2b2b2"/>
<rect x="500" y="1040" width="41" height="41" fill="#b8b8b8"/>
<rect x="540" y="1040" width="41" height="41" fill="#b5b5b5"/>
<rect x="580" y="1040" width="41" height="41" fill="#bdbdbd"/>
<rect x="620" y="1040" width="41" height="41" fill="#c2c2c2"/>
<rect x="660" y="1040" width="41" height="41" fill="#d1d1d1"/>
<rect x="700" y="1040" width="41" height="41" fill="#cccccc"/>
<rect x="740" y="1040" width="41" height="41" fill="#c7c7c7"/>
<rect x="780" y="1040" width="81" height="41" fill="#d9d9d9"/>
<rect x="860" y="1040" width="81" height="41" fill="#e0e0e0"/>
<rect x="940" y="1040" width="41" height="41" fill="#d9d9d9"/>
<rect x="980" y="1040" width="41" height="41" fill="#ebebeb"/>
<rect x="1020" y="1040" width="41" height="41" fill="#e0e0e0"/>
<rect x="1060" y="1040" width="41" height="41" fill="#bdbdbd"/>
<rect x="1100" y="1040" width="41" height="41" fill="#ababab"/>
<rect x="1140" y="1040" width="41" height="41" fill="#b8b8b8"/>
<rect x="1180" y="1040" width="41" height="41" fill="#bdbdbd"/>
<rect x="1220" y="1040" width="41" height="41" fill="#c7c7c7"/>
<rect x="1260" y="1040" width="41" height="41" fill="#cfcfcf"/>
<rect x="1300" y="1040" width="121" height="41" fill="#d9d9d9"/>
<rect x="1420" y="1040" width="41" height="41" fill="#c9c9c9"/>
<rect x="1460" y="1040" width="41" height="41" fill="#bdbdbd"/>
<rect x="340" y="1080" width="81" height="41" fill="#adadad"/>
<rect x="420" y="1080" width="41" height="41" fill="#b2b2b2"/>
<rect x="460" y="1080" width="81" height="41" fill="#b8b8b8"/>
<rect x="540" y="1080" width="41" height="41" fill="#bdbdbd"/>
<rect x="580" y="1080" width="41" height="41" fill="#c2c2c2"/>
<rect x="620" y="1080" width="81" height="41" fill="#c7c7c7"/>
<rect x="700" y="1080" width="41" height="41" fill="#d1d1d1"/>
<rect x="740" y="1080" width="121" height="41" fill="#d9d9d9"/>
<rect x="860" y="1080" width="81" height="41" fill="#e0e0e0"/>
<rect x="940" y="1080" width="41" height="41" fill="#d1d1d1"/>
<rect x="980" y="1080" width="41" height="41" fill="#b8b8b8"/>
<rect x="1020" y="1080" width="41" height="41" fill="#d9d9d9"/>
<rect x="1060" y="1080" width="41" height="41" fill="#d1d1d1"/>
<rect x="1100" y="1080" width="41" height="41" fill="#bdbdbd"/>
<rect x="1140" y="1080" width="41" height="41" fill="#b2b2b2"/>
<rect x="1180" y="1080" width="41" height="41" fill="#b8b8b8"/>
<rect x="1220" y="1080" width="41" height="41" fill="#bfbfbf"/>
<rect x="1260" y="1080" width="41" height="41" fill="#c7c7c7"/>
<rect x="1300" y="1080" width="41" height="41" fill="#cfcfcf"/>
<rect x="1340" y="1080" width="121" height="41" fill="#d9d9d9"/>
<rect x="340" y="1120" width="41" height="41" fill="#adadad"/>
<rect x="380" y="1120" width="41" height="41" fill="#b2b2b2"/>
<rect x="420" y="1120" width="41" height="41" fill="#b8b8b8"/>
<rect x="460" y="1120" width="41" height="41" fill="#bababa"/>
<rect x="500" y="1120" width="41" height="41" fill="#bdbdbd"/>
<rect x="540" y="1120" width="41" height="41" fill="#c2c2c2"/>
<rect x="580" y="1120" width="41" height="41" fill="#c7c7c7"/>
<rect x="620" y="1120" width="41" height="41" fill="#bfbfbf"/>
<rect x="660" y="1120" width="41" height="41" fill="#b2b2b2"/>
<rect x="700" y="1120" width="41" height="41" fill="#b8b8b8"/>
<rect x="740" y="1120" width="41" height="41" fill="#cccccc"/>
<rect x="780" y="1120" width="41" height="41" fill="#d1d1d1"/>
<rect x="820" y="1120" width="41" height="41" fill="#cccccc"/>
<rect x="860" y="1120" width="41" height="41" fill="#d9d9d9"/>
<rect x="900" y="1120" width="41" height="41" fill="#e0e0e0"/>
<rect x="940" y="1120" width="41" height="41" fill="#d9d9d9"/>
<rect x="980" y="1120" width="81" height="41" fill="#cccccc"/>
<rect x="1060" y="1120" width="41" height="41" fill="#d4d4d4"/>
<rect x="1100" y="1120" width="41" height="41" fill="#d1d1d1"/>
<rect x="1140" y="1120" width="41" height="41" fill="#bdbdbd"/>
<rect x="1180" y="1120" width="41" height="41" fill="#b5b5b5"/>
<rect x="1220" y="1120" width="41" height="41" fill="#b8b8b8"/>
<rect x="1260" y="1120" width="41" height="41" fill="#bfbfbf"/>
<rect x="1300" y="1120" width="41" height="41" fill="#c7c7c7"/>
<rect x="1340" y="1120" width="41" height="41" fill="#cfcfcf"/>
<rect x="1380" y="1120" width="41" height="41" fill="#d9d9d9"/>
<rect x="380" y="1160" width="41" height="41" fill="#b8b8b8"/>
<rect x="420" y="1160" width="41" height="41" fill="#bababa"/>
<rect x="460" y="1160" width="41" height="41" fill="#bdbdbd"/>
<rect x="500" y="1160" width="41" height="41" fill="#c2c2c2"/>
<rect x="540" y="1160" width="41" height="41" fill="#c7c7c7"/>
<rect x="580" y="1160" width="41" height="41" fill="#bdbdbd"/>
<rect x="620" y="1160" width="41" height="41" fill="#b2b2b2"/>
<rect x="660" y="1160" width="41" height="41" fill="#bababa"/>
<rect x="700" y="1160" width="41" height="41" fill="#c2c2c2"/>
<rect x="740" y="1160" width="41" height="41" fill="#d9d9d9"/>
<rect x="780" y="1160" width="41" height="41" fill="#e6e6e6"/>
<rect x="820" y="1160" width="41" height="41" fill="#e0e0e0"/>
<rect x="860" y="1160" width="41" height="41" fill="#cccccc"/>
<rect x="900" y="1160" width="41" height="41" fill="#d9d9d9"/>
<rect x="940" y="1160" width="41" height="41" fill="#bdbdbd"/>
<rect x="980" y="1160" width="41" height="41" fill="#c2c2c2"/>
<rect x="1020" y="1160" width="41" height="41" fill="#c9c9c9"/>
<rect x="1060" y="1160" width="41" height="41" fill="#cccccc"/>
<rect x="1100" y="1160" width="81" height="41" fill="#d1d1d1"/>
<rect x="1180" y="1160" width="41" height="41" fill="#bfbfbf"/>
<rect x="1220" y="1160" width="41" height="41" fill="#b5b5b5"/>
<rect x="1260" y="1160" width="41" height="41" fill="#b8b8b8"/>
<rect x="1300" y="1160" width="41" height="41" fill="#bfbfbf"/>
<rect x="1340" y="1160" width="41" height="41" fill="#c7c7c7"/>
<rect x="420" y="1200" width="41" height="41" fill="#bdbdbd"/>
<rect x="460" y="1200" width="41" height="41" fill="#c2c2c2"/>
<rect x="500" y="1200" width="41" height="41" fill="#c7c7c7"/>
<rect x="540" y="1200" width="41" height="41" fill="#bdbdbd"/>
<rect x="580" y="1200" width="41" height="41" fill="#b2b2b2"/>
<rect x="620" y="1200" width="41" height="41" fill="#bababa"/>
<rect x="660" y="1200" width="41" height="41" fill="#c2c2c2"/>
<rect x="700" y="1200" width="41" height="41" fill="#d1d1d1"/>
<rect x="740" y="1200" width="41" height="41" fill="#d9d9d9"/>
<rect x="780" y="1200" width="81" height="41" fill="#ebebeb"/>
<rect x="860" y="1200" width="41" height="41" fill="#cccccc"/>
<rect x="900" y="1200" width="41" height="41" fill="#c2c2c2"/>
<rect x="940" y="1200" width="41" height="41" fill="#b8b8b8"/>
<rect x="980" y="1200" width="41" height="41" fill="#bdbdbd"/>
<rect x="1020" y="1200" width="41" height="41" fill="#c2c2c2"/>
<rect x="1060" y="1200" width="41" height="41" fill="#c7c7c7"/>
<rect x="1100" y="1200" width="41" height="41" fill="#cccccc"/>
<rect x="1140" y="1200" width="41" height="41" fill="#cfcfcf"/>
<rect x="1180" y="1200" width="41" height="41" fill="#d1d1d1"/>
<rect x="1220" y="1200" width="41" height="41" fill="#bfbfbf"/>
<rect x="1260" y="1200" width="81" height="41" fill="#b8b8b8"/>
<rect x="460" y="1240" width="41" height="41" fill="#c7c7c7"/>
<rect x="500" y="1240" width="41" height="41" fill="#bdbdbd"/>
<rect x="540" y="1240" width="41" height="41" fill="#b2b2b2"/>
<rect x="580" y="1240" width="41" height="41" fill="#bababa"/>
<rect x="620" y="1240" width="41" height="41" fill="#c2c2c2"/>
<rect x="660" y="1240" width="41" height="41" fill="#cfcfcf"/>
<rect x="700" y="1240" width="41" height="41" fill="#d9d9d9"/>
<rect x="740" y="1240" width="41" height="41" fill="#e3e3e3"/>
<rect x="780" y="1240" width="81" height="41" fill="#e6e6e6"/>
<rect x="860" y="1240" width="41" height="41" fill="#d1d1d1"/>
<rect x="900" y="1240" width="41" height="41" fill="#c7c7c7"/>
<rect x="940" y="1240" width="41" height="41" fill="#bdbdbd"/>
<rect x="980" y="1240" width="41" height="41" fill="#b8b8b8"/>
<rect x="1020" y="1240" width="41" height="41" fill="#bdbdbd"/>
<rect x="1060" y="1240" width="41" height="41" fill="#c2c2c2"/>
<rect x="1100" y="1240" width="41" height="41" fill="#c7c7c7"/>
<rect x="1140" y="1240" width="41" height="41" fill="#cccccc"/>
<rect x="1180" y="1240" width="41" height="41" fill="#cfcfcf"/>
<rect x="1220" y="1240" width="41" height="41" fill="#d1d1d1"/>
<rect x="500" y="1280" width="41" height="41" fill="#b2b2b2"/>
<rect x="540" y="1280" width="41" height="41" fill="#bababa"/>
<rect x="580" y="1280" width="41" height="41" fill="#c2c2c2"/>
<rect x="620" y="1280" width="41" height="41" fill="#cfcfcf"/>
<rect x="660" y="1280" width="41" height="41" fill="#d9d9d9"/>
<rect x="700" y="1280" width="41" height="41" fill="#e0e0e0"/>
<rect x="740" y="1280" width="41" height="41" fill="#e6e6e6"/>
<rect x="780" y="1280" width="41" height="41" fill="#e3e3e3"/>
<rect x="820" y="1280" width="41" height="41" fill="#e0e0e0"/>
<rect x="860" y="1280" width="41" height="41" fill="#dedede"/>
<rect x="900" y="1280" width="41" height="41" fill="#d1d1d1"/>
<rect x="940" y="1280" width="41" height="41" fill="#c4c4c4"/>
<rect x="980" y="1280" width="41" height="41" fill="#bababa"/>
<rect x="1020" y="1280" width="41" height="41" fill="#b8b8b8"/>
<rect x="1060" y="1280" width="41" height="41" fill="#bdbdbd"/>
<rect x="1100" y="1280" width="41" height="41" fill="#c2c2c2"/>
<rect x="1140" y="1280" width="41" height="41" fill="#c7c7c7"/>
<rect x="1180" y="1280" width="41" height="41" fill="#cccccc"/>
<rect x="540" y="1320" width="41" height="41" fill="#c2c2c2"/>
<rect x="580" y="1320" width="41" height="41" fill="#cfcfcf"/>
<rect x="620" y="1320" width="41" height="41" fill="#d9d9d9"/>
<rect x="660" y="1320" width="41" height="41" fill="#e0e0e0"/>
<rect x="700" y="1320" width="41" height="41" fill="#e6e6e6"/>
<rect x="740" y="1320" width="41" height="41" fill="#e3e3e3"/>
<rect x="780" y="1320" width="121" height="41" fill="#e0e0e0"/>
<rect x="900" y="1320" width="41" height="41" fill="#dbdbdb"/>
<rect x="940" y="1320" width="41" height="41" fill="#d1d1d1"/>
<rect x="980" y="1320" width="41" height="41" fill="#c2c2c2"/>
<rect x="1020" y="1320" width="81" height="41" fill="#b8b8b8"/>
<rect x="1100" y="1320" width="41" height="41" fill="#bdbdbd"/>
<rect x="1140" y="1320" width="41" height="41" fill="#c2c2c2"/>
<rect x="580" y="1360" width="41" height="41" fill="#d9d9d9"/>
<rect x="620" y="1360" width="41" height="41" fill="#e0e0e0"/>
<rect x="660" y="1360" width="41" height="41" fill="#e6e6e6"/>
<rect x="700" y="1360" width="41" height="41" fill="#e3e3e3"/>
<rect x="740" y="1360" width="201" height="41" fill="#e0e0e0"/>
<rect x="940" y="1360" width="41" height="41" fill="#d9d9d9"/>
<rect x="980" y="1360" width="41" height="41" fill="#d1d1d1"/>
<rect x="1020" y="1360" width="41" height="41" fill="#c2c2c2"/>
<rect x="1060" y="1360" width="81" height="41" fill="#b8b8b8"/>
<rect x="620" y="1400" width="41" height="41" fill="#e6e6e6"/>
<rect x="660" y="1400" width="41" height="41" fill="#e3e3e3"/>
<rect x="700" y="1400" width="281" height="41" fill="#e0e0e0"/>
<rect x="980" y="1400" width="41" height="41" fill="#d9d9d9"/>
<rect x="1020" y="1400" width="41" height="41" fill="#d1d1d1"/>
<rect x="660" y="1440" width="361" height="41" fill="#e0e0e0"/>
<ellipse cx="524" cy="925" rx="13" ry="16" fill="#707070"/>
<ellipse cx="1280" cy="876" rx="18" ry="12" fill="#808080"/>
<ellipse cx="1203" cy="862" rx="14" ry="20" fill="#999999"/>
</g>
</g>
<g clip-path="url(#clipHM)"><g filter="url(#soft)">
<ellipse cx="1078" cy="850" rx="28" ry="40" fill="#200" opacity="0.05" transform="rotate(10 1078 850)"/>
<ellipse cx="1067" cy="531" rx="26" ry="30" fill="#200" opacity="0.04"/>
<ellipse cx="823" cy="1232" rx="22" ry="34" fill="#200" opacity="0.04"/>
</g></g>
<g stroke="#5a5a5a" stroke-width="1.1" fill="none" opacity="0.85">
<line x1="349.4" y1="71.9" x2="361.3" y2="1811.3"/>
<line x1="601.0" y1="70.5" x2="619.0" y2="1808.6"/>
<line x1="853.2" y1="67.2" x2="876.4" y2="1805.3"/>
<line x1="1104.7" y1="63.9" x2="1134.6" y2="1801.3"/>
<line x1="1356.3" y1="58.6" x2="1392.2" y2="1797.4"/>
<line x1="1608.6" y1="53.3" x2="1649.8" y2="1791.4"/>
<path d="M236.8 131.5Q935.9 127.5 1634.9 110.6"/>
<path d="M238.2 421.9Q939.9 417.3 1641.5 399.9"/>
<path d="M239.9 711.2Q944.6 707.1 1649.2 690.2"/>
<path d="M241.3 1001.1Q948.4 997.2 1655.5 980.5"/>
<path d="M242.7 1291.1Q952.6 1286.8 1662.5 1269.8"/>
<path d="M244.1 1581.1Q956.9 1576.8 1669.8 1559.8"/>
</g>
<polygon points="1019.0,242.0 1460.0,959.0 727.0,1413.0 289.8,690.0" fill="none" stroke="#05820a" stroke-width="8.1" stroke-linejoin="miter"/>
<polygon points="964.0,187.5 1512.0,805.5 842.5,1400.0 295.0,782.0" fill="none" stroke="#34cc14" stroke-width="6.5" stroke-linejoin="miter" opacity="0.92"/>
<rect x="234.1" y="50.0" width="1444.2" height="1767.0" fill="none" stroke="#505050" stroke-width="1.5"/>
<rect x="1701.0" y="50.00" width="44.9" height="28.21" fill="#960000"/>
<rect x="1701.0" y="77.61" width="44.9" height="28.21" fill="#aa0000"/>
<rect x="1701.0" y="105.22" width="44.9" height="28.21" fill="#b90000"/>
<rect x="1701.0" y="132.83" width="44.9" height="28.21" fill="#cd0000"/>
<rect x="1701.0" y="160.44" width="44.9" height="28.21" fill="#de0000"/>
<rect x="1701.0" y="188.05" width="44.9" height="28.21" fill="#f50000"/>
<rect x="1701.0" y="215.66" width="44.9" height="28.21" fill="#ff0000"/>
<rect x="1701.0" y="243.27" width="44.9" height="28.21" fill="#ff0000"/>
<rect x="1701.0" y="270.88" width="44.9" height="28.21" fill="#ff0000"/>
<rect x="1701.0" y="298.48" width="44.9" height="28.21" fill="#ff0c00"/>
<rect x="1701.0" y="326.09" width="44.9" height="28.21" fill="#ff1c00"/>
<rect x="1701.0" y="353.70" width="44.9" height="28.21" fill="#ff2c00"/>
<rect x="1701.0" y="381.31" width="44.9" height="28.21" fill="#ff3c00"/>
<rect x="1701.0" y="408.92" width="44.9" height="28.21" fill="#ff4c00"/>
<rect x="1701.0" y="436.53" width="44.9" height="28.21" fill="#ff6000"/>
<rect x="1701.0" y="464.14" width="44.9" height="28.21" fill="#ff7000"/>
<rect x="1701.0" y="491.75" width="44.9" height="28.21" fill="#ff8000"/>
<rect x="1701.0" y="519.36" width="44.9" height="28.21" fill="#ff9000"/>
<rect x="1701.0" y="546.97" width="44.9" height="28.21" fill="#ffa000"/>
<rect x="1701.0" y="574.58" width="44.9" height="28.21" fill="#ffb000"/>
<rect x="1701.0" y="602.19" width="44.9" height="28.21" fill="#ffc000"/>
<rect x="1701.0" y="629.80" width="44.9" height="28.21" fill="#ffd000"/>
<rect x="1701.0" y="657.41" width="44.9" height="28.21" fill="#ffe000"/>
<rect x="1701.0" y="685.02" width="44.9" height="28.21" fill="#fff000"/>
<rect x="1701.0" y="712.62" width="44.9" height="28.21" fill="#ffff00"/>
<rect x="1701.0" y="740.23" width="44.9" height="28.21" fill="#e8ff00"/>
<rect x="1701.0" y="767.84" width="44.9" height="28.21" fill="#cdff00"/>
<rect x="1701.0" y="795.45" width="44.9" height="28.21" fill="#b4ff00"/>
<rect x="1701.0" y="823.06" width="44.9" height="28.21" fill="#9bff1e"/>
<rect x="1701.0" y="850.67" width="44.9" height="28.21" fill="#7dff37"/>
<rect x="1701.0" y="878.28" width="44.9" height="28.21" fill="#64ff46"/>
<rect x="1701.0" y="905.89" width="44.9" height="28.21" fill="#00ff5d"/>
<rect x="1701.0" y="933.50" width="44.9" height="28.21" fill="#00ff6f"/>
<rect x="1701.0" y="961.11" width="44.9" height="28.21" fill="#00ff81"/>
<rect x="1701.0" y="988.72" width="44.9" height="28.21" fill="#00ff93"/>
<rect x="1701.0" y="1016.33" width="44.9" height="28.21" fill="#00ffa5"/>
<rect x="1701.0" y="1043.94" width="44.9" height="28.21" fill="#00ffb7"/>
<rect x="1701.0" y="1071.55" width="44.9" height="28.21" fill="#00ffc9"/>
<rect x="1701.0" y="1099.16" width="44.9" height="28.21" fill="#00ffdb"/>
<rect x="1701.0" y="1126.77" width="44.9" height="28.21" fill="#00ffed"/>
<rect x="1701.0" y="1154.38" width="44.9" height="28.21" fill="#00ffff"/>
<rect x="1701.0" y="1181.98" width="44.9" height="28.21" fill="#00f0ff"/>
<rect x="1701.0" y="1209.59" width="44.9" height="28.21" fill="#00e0ff"/>
<rect x="1701.0" y="1237.20" width="44.9" height="28.21" fill="#00d0ff"/>
<rect x="1701.0" y="1264.81" width="44.9" height="28.21" fill="#00c0ff"/>
<rect x="1701.0" y="1292.42" width="44.9" height="28.21" fill="#00b0ff"/>
<rect x="1701.0" y="1320.03" width="44.9" height="28.21" fill="#00a0ff"/>
<rect x="1701.0" y="1347.64" width="44.9" height="28.21" fill="#0090ff"/>
<rect x="1701.0" y="1375.25" width="44.9" height="28.21" fill="#0080ff"/>
<rect x="1701.0" y="1402.86" width="44.9" height="28.21" fill="#0070ff"/>
<rect x="1701.0" y="1430.47" width="44.9" height="28.21" fill="#0060ff"/>
<rect x="1701.0" y="1458.08" width="44.9" height="28.21" fill="#0050ff"/>
<rect x="1701.0" y="1485.69" width="44.9" height="28.21" fill="#0040ff"/>
<rect x="1701.0" y="1513.30" width="44.9" height="28.21" fill="#0030ff"/>
<rect x="1701.0" y="1540.91" width="44.9" height="28.21" fill="#0020ff"/>
<rect x="1701.0" y="1568.52" width="44.9" height="28.21" fill="#0010ff"/>
<rect x="1701.0" y="1596.12" width="44.9" height="28.21" fill="#0000ff"/>
<rect x="1701.0" y="1623.73" width="44.9" height="28.21" fill="#0000f0"/>
<rect x="1701.0" y="1651.34" width="44.9" height="28.21" fill="#0000e1"/>
<rect x="1701.0" y="1678.95" width="44.9" height="28.21" fill="#0000d2"/>
<rect x="1701.0" y="1706.56" width="44.9" height="28.21" fill="#0000c3"/>
<rect x="1701.0" y="1734.17" width="44.9" height="28.21" fill="#0000b4"/>
<rect x="1701.0" y="1761.78" width="44.9" height="28.21" fill="#0000a5"/>
<rect x="1701.0" y="1789.39" width="44.9" height="27.61" fill="#000096"/>
<rect x="1701.0" y="50.0" width="44.9" height="1767.0" fill="none" stroke="#333" stroke-width="1.2"/>
<g font-family='"Liberation Serif", "DejaVu Serif", serif' font-weight="bold" font-size="53.5" fill="#222">
<text x="1759.9" y="1835.2">0</text>
<line x1="1727.9" y1="1640.3" x2="1745.9" y2="1640.3" stroke="#222" stroke-width="1.1"/>
<text x="1759.9" y="1658.5">10</text>
<line x1="1727.9" y1="1463.6" x2="1745.9" y2="1463.6" stroke="#222" stroke-width="1.1"/>
<text x="1759.9" y="1481.8">20</text>
<line x1="1727.9" y1="1286.9" x2="1745.9" y2="1286.9" stroke="#222" stroke-width="1.1"/>
<text x="1759.9" y="1305.2">30</text>
<line x1="1727.9" y1="1110.2" x2="1745.9" y2="1110.2" stroke="#222" stroke-width="1.1"/>
<text x="1759.9" y="1128.5">40</text>
<line x1="1727.9" y1="933.5" x2="1745.9" y2="933.5" stroke="#222" stroke-width="1.1"/>
<text x="1759.9" y="951.8">50</text>
<line x1="1727.9" y1="756.8" x2="1745.9" y2="756.8" stroke="#222" stroke-width="1.1"/>
<text x="1759.9" y="775.0">60</text>
<line x1="1727.9" y1="580.1" x2="1745.9" y2="580.1" stroke="#222" stroke-width="1.1"/>
<text x="1759.9" y="598.3">70</text>
<line x1="1727.9" y1="403.4" x2="1745.9" y2="403.4" stroke="#222" stroke-width="1.1"/>
<text x="1759.9" y="421.7">80</text>
<line x1="1727.9" y1="226.7" x2="1745.9" y2="226.7" stroke="#222" stroke-width="1.1"/>
<text x="1759.9" y="245.0">90</text>
<text x="1759.9" y="68.2">100</text>
<text transform="translate(1896.7 935.0) rotate(-90)" text-anchor="middle" font-size="54">Sea ice coverage (%)</text>
<text x="209.8" y="162.2" text-anchor="end">77.45<tspan font-weight="normal" font-size="49.2" dy="-20.5" dx="-0.5">°</tspan><tspan dy="20.5" dx="-2.5"> N</tspan></text>
<text x="211.2" y="452.6" text-anchor="end">77.40<tspan font-weight="normal" font-size="49.2" dy="-20.5" dx="-0.5">°</tspan><tspan dy="20.5" dx="-2.5"> N</tspan></text>
<text x="212.9" y="742.0" text-anchor="end">77.35<tspan font-weight="normal" font-size="49.2" dy="-20.5" dx="-0.5">°</tspan><tspan dy="20.5" dx="-2.5"> N</tspan></text>
<text x="214.3" y="1031.8" text-anchor="end">77.30<tspan font-weight="normal" font-size="49.2" dy="-20.5" dx="-0.5">°</tspan><tspan dy="20.5" dx="-2.5"> N</tspan></text>
<text x="215.7" y="1321.8" text-anchor="end">77.25<tspan font-weight="normal" font-size="49.2" dy="-20.5" dx="-0.5">°</tspan><tspan dy="20.5" dx="-2.5"> N</tspan></text>
<text x="217.1" y="1611.8" text-anchor="end">77.20<tspan font-weight="normal" font-size="49.2" dy="-20.5" dx="-0.5">°</tspan><tspan dy="20.5" dx="-2.5"> N</tspan></text>
<text x="368.3" y="1940.8" text-anchor="middle">146.60<tspan font-weight="normal" font-size="49.2" dy="-20.5" dx="-0.5">°</tspan><tspan dy="20.5" dx="-2.5"> W</tspan></text>
<text x="626.0" y="1938.1" text-anchor="middle">146.40<tspan font-weight="normal" font-size="49.2" dy="-20.5" dx="-0.5">°</tspan><tspan dy="20.5" dx="-2.5"> W</tspan></text>
<text x="883.4" y="1934.8" text-anchor="middle">146.20<tspan font-weight="normal" font-size="49.2" dy="-20.5" dx="-0.5">°</tspan><tspan dy="20.5" dx="-2.5"> W</tspan></text>
<text x="1141.6" y="1930.8" text-anchor="middle">146.00<tspan font-weight="normal" font-size="49.2" dy="-20.5" dx="-0.5">°</tspan><tspan dy="20.5" dx="-2.5"> W</tspan></text>
<text x="1399.2" y="1927.0" text-anchor="middle">145.80<tspan font-weight="normal" font-size="49.2" dy="-20.5" dx="-0.5">°</tspan><tspan dy="20.5" dx="-2.5"> W</tspan></text>
<text x="1656.8" y="1921.0" text-anchor="middle">145.60<tspan font-weight="normal" font-size="49.2" dy="-20.5" dx="-0.5">°</tspan><tspan dy="20.5" dx="-2.5"> W</tspan></text>
</g>
<g stroke="#333" stroke-width="1.3" fill="none">
<line x1="1248.3" y1="1639.3" x2="1508.8" y2="1639.3"/>
<line x1="1248.3" y1="1639.9" x2="1248.3" y2="1628.3"/>
<line x1="1300.4" y1="1639.9" x2="1300.4" y2="1628.3"/>
<line x1="1352.5" y1="1639.9" x2="1352.5" y2="1628.3"/>
<line x1="1404.6" y1="1639.9" x2="1404.6" y2="1628.3"/>
<line x1="1508.8" y1="1639.9" x2="1508.8" y2="1628.3"/>
<line x1="1261.3" y1="1639.3" x2="1261.3" y2="1632.3"/>
<line x1="1274.4" y1="1639.3" x2="1274.4" y2="1632.3"/>
<line x1="1287.4" y1="1639.3" x2="1287.4" y2="1632.3"/>
</g>
<g font-family='"Liberation Serif", "DejaVu Serif", serif' font-weight="bold" font-size="52.5" fill="#000" text-anchor="middle">
<text x="1248.3" y="1618.2">1</text>
<text x="1300.4" y="1618.2">0</text>
<text x="1352.5" y="1618.2">1</text>
<text x="1404.6" y="1618.2">2</text>
<text x="1479.6" y="1618.2" text-anchor="start">4 km</text>
</g>
</g>
<g transform="matrix(1.0096 0 0 1.0056 -9.4 2033.4)">
<g clip-path="url(#clipDG)">
<rect x="280" y="230" width="1190" height="1190" fill="#b4b4b4"/>
<rect x="280" y="230" width="1190" height="1190" filter="url(#sar)"/>

</g>
<g clip-path="url(#clipHM)"><rect x="300" y="240" width="1110" height="1120" filter="url(#ice)"/></g>
<g clip-path="url(#clipHM)" opacity="0.89">
<g filter="url(#jet)">
<rect x="300" y="240" width="1110" height="1120" fill="#b8b8b8"/>
<rect x="620" y="240" width="81" height="41" fill="#bababa"/>
<rect x="700" y="240" width="41" height="41" fill="#b8b8b8"/>
<rect x="740" y="240" width="41" height="41" fill="#b5b5b5"/>
<rect x="780" y="240" width="41" height="41" fill="#a6a6a6"/>
<rect x="820" y="240" width="41" height="41" fill="#969696"/>
<rect x="860" y="240" width="41" height="41" fill="#8c8c8c"/>
<rect x="900" y="240" width="41" height="41" fill="#828282"/>
<rect x="940" y="240" width="121" height="41" fill="#707070"/>
<rect x="1060" y="240" width="41" height="41" fill="#858585"/>
<rect x="1100" y="240" width="161" height="41" fill="#969696"/>
<rect x="540" y="280" width="81" height="41" fill="#a6a6a6"/>
<rect x="620" y="280" width="41" height="41" fill="#adadad"/>
<rect x="660" y="280" width="81" height="41" fill="#bababa"/>
<rect x="740" y="280" width="41" height="41" fill="#b8b8b8"/>
<rect x="780" y="280" width="41" height="41" fill="#b5b5b5"/>
<rect x="820" y="280" width="41" height="41" fill="#a6a6a6"/>
<rect x="860" y="280" width="41" height="41" fill="#969696"/>
<rect x="900" y="280" width="41" height="41" fill="#828282"/>
<rect x="940" y="280" width="41" height="41" fill="#7d7d7d"/>
<rect x="980" y="280" width="41" height="41" fill="#707070"/>
<rect x="1020" y="280" width="41" height="41" fill="#858585"/>
<rect x="1060" y="280" width="41" height="41" fill="#969696"/>
<rect x="1100" y="280" width="41" height="41" fill="#999999"/>
<rect x="1140" y="280" width="41" height="41" fill="#969696"/>
<rect x="1180" y="280" width="41" height="41" fill="#949494"/>
<rect x="1220" y="280" width="41" height="41" fill="#969696"/>
<rect x="1260" y="280" width="41" height="41" fill="#9c9c9c"/>
<rect x="500" y="320" width="41" height="41" fill="#c4c4c4"/>
<rect x="540" y="320" width="41" height="41" fill="#b5b5b5"/>
<rect x="580" y="320" width="81" height="41" fill="#a6a6a6"/>
<rect x="660" y="320" width="41" height="41" fill="#adadad"/>
<rect x="700" y="320" width="41" height="41" fill="#bababa"/>
<rect x="740" y="320" width="81" height="41" fill="#b8b8b8"/>
<rect x="820" y="320" width="41" height="41" fill="#b5b5b5"/>
<rect x="860" y="320" width="41" height="41" fill="#a8a8a8"/>
<rect x="900" y="320" width="41" height="41" fill="#969696"/>
<rect x="940" y="320" width="41" height="41" fill="#6b6b6b"/>
<rect x="980" y="320" width="41" height="41" fill="#858585"/>
<rect x="1020" y="320" width="41" height="41" fill="#969696"/>
<rect x="1060" y="320" width="41" height="41" fill="#9e9e9e"/>
<rect x="1100" y="320" width="41" height="41" fill="#969696"/>
<rect x="1140" y="320" width="41" height="41" fill="#919191"/>
<rect x="1180" y="320" width="41" height="41" fill="#969696"/>
<rect x="1220" y="320" width="41" height="41" fill="#9c9c9c"/>
<rect x="1260" y="320" width="41" height="41" fill="#969696"/>
<rect x="1300" y="320" width="41" height="41" fill="#919191"/>
<rect x="420" y="360" width="81" height="41" fill="#d9d9d9"/>
<rect x="500" y="360" width="41" height="41" fill="#d1d1d1"/>
<rect x="540" y="360" width="41" height="41" fill="#c4c4c4"/>
<rect x="580" y="360" width="41" height="41" fill="#b5b5b5"/>
<rect x="620" y="360" width="81" height="41" fill="#a6a6a6"/>
<rect x="700" y="360" width="41" height="41" fill="#adadad"/>
<rect x="740" y="360" width="41" height="41" fill="#bababa"/>
<rect x="780" y="360" width="81" height="41" fill="#b8b8b8"/>
<rect x="860" y="360" width="41" height="41" fill="#b5b5b5"/>
<rect x="900" y="360" width="41" height="41" fill="#b0b0b0"/>
<rect x="940" y="360" width="41" height="41" fill="#bababa"/>
<rect x="980" y="360" width="41" height="41" fill="#c4c4c4"/>
<rect x="1020" y="360" width="41" height="41" fill="#ababab"/>
<rect x="1060" y="360" width="41" height="41" fill="#969696"/>
<rect x="1100" y="360" width="41" height="41" fill="#8a8a8a"/>
<rect x="1140" y="360" width="41" height="41" fill="#969696"/>
<rect x="1180" y="360" width="41" height="41" fill="#9c9c9c"/>
<rect x="1220" y="360" width="41" height="41" fill="#969696"/>
<rect x="1260" y="360" width="81" height="41" fill="#919191"/>
<rect x="380" y="400" width="41" height="41" fill="#d1d1d1"/>
<rect x="420" y="400" width="41" height="41" fill="#d4d4d4"/>
<rect x="460" y="400" width="81" height="41" fill="#d9d9d9"/>
<rect x="540" y="400" width="41" height="41" fill="#d1d1d1"/>
<rect x="580" y="400" width="41" height="41" fill="#c4c4c4"/>
<rect x="620" y="400" width="41" height="41" fill="#b5b5b5"/>
<rect x="660" y="400" width="81" height="41" fill="#a6a6a6"/>
<rect x="740" y="400" width="41" height="41" fill="#b0b0b0"/>
<rect x="780" y="400" width="41" height="41" fill="#bababa"/>
<rect x="820" y="400" width="41" height="41" fill="#b5b5b5"/>
<rect x="860" y="400" width="41" height="41" fill="#bababa"/>
<rect x="900" y="400" width="41" height="41" fill="#b5b5b5"/>
<rect x="940" y="400" width="41" height="41" fill="#969696"/>
<rect x="980" y="400" width="41" height="41" fill="#bababa"/>
<rect x="1020" y="400" width="41" height="41" fill="#b0b0b0"/>
<rect x="1060" y="400" width="41" height="41" fill="#7d7d7d"/>
<rect x="1100" y="400" width="41" height="41" fill="#999999"/>
<rect x="1140" y="400" width="41" height="41" fill="#9c9c9c"/>
<rect x="1180" y="400" width="81" height="41" fill="#919191"/>
<rect x="1260" y="400" width="41" height="41" fill="#949494"/>
<rect x="1300" y="400" width="41" height="41" fill="#999999"/>
<rect x="1340" y="400" width="41" height="41" fill="#a6a6a6"/>
<rect x="340" y="440" width="121" height="41" fill="#d1d1d1"/>
<rect x="460" y="440" width="41" height="41" fill="#d4d4d4"/>
<rect x="500" y="440" width="81" height="41" fill="#d9d9d9"/>
<rect x="580" y="440" width="41" height="41" fill="#d1d1d1"/>
<rect x="620" y="440" width="41" height="41" fill="#c4c4c4"/>
<rect x="660" y="440" width="41" height="41" fill="#b2b2b2"/>
<rect x="700" y="440" width="81" height="41" fill="#a6a6a6"/>
<rect x="780" y="440" width="81" height="41" fill="#bababa"/>
<rect x="860" y="440" width="41" height="41" fill="#b0b0b0"/>
<rect x="900" y="440" width="41" height="41" fill="#a6a6a6"/>
<rect x="940" y="440" width="41" height="41" fill="#6b6b6b"/>
<rect x="980" y="440" width="41" height="41" fill="#a6a6a6"/>
<rect x="1020" y="440" width="41" height="41" fill="#ababab"/>
<rect x="1060" y="440" width="41" height="41" fill="#b0b0b0"/>
<rect x="1100" y="440" width="41" height="41" fill="#9c9c9c"/>
<rect x="1140" y="440" width="41" height="41" fill="#8a8a8a"/>
<rect x="1180" y="440" width="41" height="41" fill="#919191"/>
<rect x="1220" y="440" width="41" height="41" fill="#969696"/>
<rect x="1260" y="440" width="41" height="41" fill="#999999"/>
<rect x="1300" y="440" width="81" height="41" fill="#a6a6a6"/>
<rect x="300" y="480" width="41" height="41" fill="#d6d6d6"/>
<rect x="340" y="480" width="41" height="41" fill="#d4d4d4"/>
<rect x="380" y="480" width="121" height="41" fill="#d1d1d1"/>
<rect x="500" y="480" width="41" height="41" fill="#d4d4d4"/>
<rect x="540" y="480" width="81" height="41" fill="#d9d9d9"/>
<rect x="620" y="480" width="41" height="41" fill="#cccccc"/>
<rect x="660" y="480" width="41" height="41" fill="#c4c4c4"/>
<rect x="700" y="480" width="41" height="41" fill="#b0b0b0"/>
<rect x="740" y="480" width="121" height="41" fill="#b5b5b5"/>
<rect x="860" y="480" width="41" height="41" fill="#b0b0b0"/>
<rect x="900" y="480" width="41" height="41" fill="#a6a6a6"/>
<rect x="940" y="480" width="41" height="41" fill="#6b6b6b"/>
<rect x="980" y="480" width="41" height="41" fill="#787878"/>
<rect x="1020" y="480" width="41" height="41" fill="#919191"/>
<rect x="1060" y="480" width="41" height="41" fill="#787878"/>
<rect x="1100" y="480" width="41" height="41" fill="#707070"/>
<rect x="1140" y="480" width="41" height="41" fill="#919191"/>
<rect x="1180" y="480" width="81" height="41" fill="#9c9c9c"/>
<rect x="1260" y="480" width="41" height="41" fill="#a6a6a6"/>
<rect x="1300" y="480" width="41" height="41" fill="#a8a8a8"/>
<rect x="1340" y="480" width="41" height="41" fill="#b5b5b5"/>
<rect x="1380" y="480" width="41" height="41" fill="#d1d1d1"/>
<rect x="300" y="520" width="41" height="41" fill="#d9d9d9"/>
<rect x="340" y="520" width="41" height="41" fill="#d6d6d6"/>
<rect x="380" y="520" width="41" height="41" fill="#d4d4d4"/>
<rect x="420" y="520" width="41" height="41" fill="#d1d1d1"/>
<rect x="460" y="520" width="41" height="41" fill="#cfcfcf"/>
<rect x="500" y="520" width="41" height="41" fill="#d1d1d1"/>
<rect x="540" y="520" width="41" height="41" fill="#d4d4d4"/>
<rect x="580" y="520" width="81" height="41" fill="#d9d9d9"/>
<rect x="660" y="520" width="41" height="41" fill="#bababa"/>
<rect x="700" y="520" width="41" height="41" fill="#b5b5b5"/>
<rect x="740" y="520" width="41" height="41" fill="#bababa"/>
<rect x="780" y="520" width="41" height="41" fill="#b5b5b5"/>
<rect x="820" y="520" width="81" height="41" fill="#b0b0b0"/>
<rect x="900" y="520" width="41" height="41" fill="#a6a6a6"/>
<rect x="940" y="520" width="41" height="41" fill="#919191"/>
<rect x="980" y="520" width="41" height="41" fill="#7d7d7d"/>
<rect x="1020" y="520" width="41" height="41" fill="#5e5e5e"/>
<rect x="1060" y="520" width="41" height="41" fill="#545454"/>
<rect x="1100" y="520" width="41" height="41" fill="#787878"/>
<rect x="1140" y="520" width="41" height="41" fill="#a6a6a6"/>
<rect x="1180" y="520" width="41" height="41" fill="#9c9c9c"/>
<rect x="1220" y="520" width="41" height="41" fill="#a6a6a6"/>
<rect x="1260" y="520" width="41" height="41" fill="#a8a8a8"/>
<rect x="1300" y="520" width="41" height="41" fill="#b8b8b8"/>
<rect x="1340" y="520" width="41" height="41" fill="#d1d1d1"/>
<rect x="1380" y="520" width="41" height="41" fill="#d9d9d9"/>
<rect x="1420" y="520" width="41" height="41" fill="#dedede"/>
<rect x="300" y="560" width="41" height="41" fill="#c4c4c4"/>
<rect x="340" y="560" width="41" height="41" fill="#d9d9d9"/>
<rect x="380" y="560" width="41" height="41" fill="#d4d4d4"/>
<rect x="420" y="560" width="41" height="41" fill="#cfcfcf"/>
<rect x="460" y="560" width="41" height="41" fill="#d1d1d1"/>
<rect x="500" y="560" width="41" height="41" fill="#cccccc"/>
<rect x="540" y="560" width="81" height="41" fill="#d1d1d1"/>
<rect x="620" y="560" width="41" height="41" fill="#bfbfbf"/>
<rect x="660" y="560" width="41" height="41" fill="#a1a1a1"/>
<rect x="700" y="560" width="41" height="41" fill="#bababa"/>
<rect x="740" y="560" width="41" height="41" fill="#c4c4c4"/>
<rect x="780" y="560" width="41" height="41" fill="#cccccc"/>
<rect x="820" y="560" width="41" height="41" fill="#b5b5b5"/>
<rect x="860" y="560" width="81" height="41" fill="#ababab"/>
<rect x="940" y="560" width="41" height="41" fill="#a6a6a6"/>
<rect x="980" y="560" width="41" height="41" fill="#969696"/>
<rect x="1020" y="560" width="41" height="41" fill="#666666"/>
<rect x="1060" y="560" width="41" height="41" fill="#707070"/>
<rect x="1100" y="560" width="41" height="41" fill="#919191"/>
<rect x="1140" y="560" width="41" height="41" fill="#969696"/>
<rect x="1180" y="560" width="41" height="41" fill="#a6a6a6"/>
<rect x="1220" y="560" width="41" height="41" fill="#adadad"/>
<rect x="1260" y="560" width="41" height="41" fill="#bababa"/>
<rect x="1300" y="560" width="41" height="41" fill="#d1d1d1"/>
<rect x="1340" y="560" width="41" height="41" fill="#d9d9d9"/>
<rect x="1380" y="560" width="81" height="41" fill="#dedede"/>
<rect x="300" y="600" width="41" height="41" fill="#b0b0b0"/>
<rect x="340" y="600" width="41" height="41" fill="#c4c4c4"/>
<rect x="380" y="600" width="41" height="41" fill="#d9d9d9"/>
<rect x="420" y="600" width="41" height="41" fill="#d1d1d1"/>
<rect x="460" y="600" width="41" height="41" fill="#c4c4c4"/>
<rect x="500" y="600" width="41" height="41" fill="#d1d1d1"/>
<rect x="540" y="600" width="81" height="41" fill="#c4c4c4"/>
<rect x="620" y="600" width="41" height="41" fill="#ababab"/>
<rect x="660" y="600" width="41" height="41" fill="#b0b0b0"/>
<rect x="700" y="600" width="121" height="41" fill="#d1d1d1"/>
<rect x="820" y="600" width="41" height="41" fill="#b5b5b5"/>
<rect x="860" y="600" width="41" height="41" fill="#a6a6a6"/>
<rect x="900" y="600" width="41" height="41" fill="#bababa"/>
<rect x="940" y="600" width="41" height="41" fill="#d9d9d9"/>
<rect x="980" y="600" width="41" height="41" fill="#a1a1a1"/>
<rect x="1020" y="600" width="41" height="41" fill="#7d7d7d"/>
<rect x="1060" y="600" width="41" height="41" fill="#a6a6a6"/>
<rect x="1100" y="600" width="41" height="41" fill="#a1a1a1"/>
<rect x="1140" y="600" width="41" height="41" fill="#8c8c8c"/>
<rect x="1180" y="600" width="41" height="41" fill="#b5b5b5"/>
<rect x="1220" y="600" width="41" height="41" fill="#c2c2c2"/>
<rect x="1260" y="600" width="41" height="41" fill="#d1d1d1"/>
<rect x="1300" y="600" width="41" height="41" fill="#d9d9d9"/>
<rect x="1340" y="600" width="81" height="41" fill="#dedede"/>
<rect x="1420" y="600" width="41" height="41" fill="#cccccc"/>
<rect x="1460" y="600" width="41" height="41" fill="#a6a6a6"/>
<rect x="300" y="640" width="41" height="41" fill="#a1a1a1"/>
<rect x="340" y="640" width="41" height="41" fill="#b0b0b0"/>
<rect x="380" y="640" width="41" height="41" fill="#c9c9c9"/>
<rect x="420" y="640" width="41" height="41" fill="#d9d9d9"/>
<rect x="460" y="640" width="41" height="41" fill="#cccccc"/>
<rect x="500" y="640" width="41" height="41" fill="#9c9c9c"/>
<rect x="540" y="640" width="41" height="41" fill="#b0b0b0"/>
<rect x="580" y="640" width="41" height="41" fill="#dedede"/>
<rect x="620" y="640" width="81" height="41" fill="#b5b5b5"/>
<rect x="700" y="640" width="41" height="41" fill="#d9d9d9"/>
<rect x="740" y="640" width="41" height="41" fill="#c4c4c4"/>
<rect x="780" y="640" width="41" height="41" fill="#d9d9d9"/>
<rect x="820" y="640" width="41" height="41" fill="#bababa"/>
<rect x="860" y="640" width="41" height="41" fill="#858585"/>
<rect x="900" y="640" width="41" height="41" fill="#919191"/>
<rect x="940" y="640" width="41" height="41" fill="#dedede"/>
<rect x="980" y="640" width="41" height="41" fill="#b0b0b0"/>
<rect x="1020" y="640" width="41" height="41" fill="#a6a6a6"/>
<rect x="1060" y="640" width="81" height="41" fill="#cccccc"/>
<rect x="1140" y="640" width="41" height="41" fill="#bfbfbf"/>
<rect x="1180" y="640" width="41" height="41" fill="#d9d9d9"/>
<rect x="1220" y="640" width="41" height="41" fill="#d1d1d1"/>
<rect x="1260" y="640" width="41" height="41" fill="#dbdbdb"/>
<rect x="1300" y="640" width="81" height="41" fill="#dedede"/>
<rect x="1380" y="640" width="41" height="41" fill="#cccccc"/>
<rect x="1420" y="640" width="41" height="41" fill="#a6a6a6"/>
<rect x="1460" y="640" width="41" height="41" fill="#a8a8a8"/>
<rect x="300" y="680" width="41" height="41" fill="#919191"/>
<rect x="340" y="680" width="41" height="41" fill="#a1a1a1"/>
<rect x="380" y="680" width="41" height="41" fill="#b0b0b0"/>
<rect x="420" y="680" width="41" height="41" fill="#d9d9d9"/>
<rect x="460" y="680" width="41" height="41" fill="#bfbfbf"/>
<rect x="500" y="680" width="81" height="41" fill="#a6a6a6"/>
<rect x="580" y="680" width="41" height="41" fill="#b0b0b0"/>
<rect x="620" y="680" width="41" height="41" fill="#d9d9d9"/>
<rect x="660" y="680" width="41" height="41" fill="#bfbfbf"/>
<rect x="700" y="680" width="41" height="41" fill="#ababab"/>
<rect x="740" y="680" width="41" height="41" fill="#9c9c9c"/>
<rect x="780" y="680" width="41" height="41" fill="#bfbfbf"/>
<rect x="820" y="680" width="41" height="41" fill="#d9d9d9"/>
<rect x="860" y="680" width="41" height="41" fill="#c4c4c4"/>
<rect x="900" y="680" width="81" height="41" fill="#e6e6e6"/>
<rect x="980" y="680" width="41" height="41" fill="#bfbfbf"/>
<rect x="1020" y="680" width="41" height="41" fill="#7d7d7d"/>
<rect x="1060" y="680" width="41" height="41" fill="#bababa"/>
<rect x="1100" y="680" width="41" height="41" fill="#bfbfbf"/>
<rect x="1140" y="680" width="41" height="41" fill="#c4c4c4"/>
<rect x="1180" y="680" width="161" height="41" fill="#dedede"/>
<rect x="1340" y="680" width="41" height="41" fill="#cccccc"/>
<rect x="1380" y="680" width="41" height="41" fill="#a6a6a6"/>
<rect x="1420" y="680" width="41" height="41" fill="#a8a8a8"/>
<rect x="1460" y="680" width="41" height="41" fill="#969696"/>
<rect x="1500" y="680" width="41" height="41" fill="#707070"/>
<rect x="300" y="720" width="81" height="41" fill="#919191"/>
<rect x="380" y="720" width="41" height="41" fill="#a1a1a1"/>
<rect x="420" y="720" width="41" height="41" fill="#bfbfbf"/>
<rect x="460" y="720" width="41" height="41" fill="#cccccc"/>
<rect x="500" y="720" width="81" height="41" fill="#c4c4c4"/>
<rect x="580" y="720" width="41" height="41" fill="#bababa"/>
<rect x="620" y="720" width="41" height="41" fill="#969696"/>
<rect x="660" y="720" width="81" height="41" fill="#9c9c9c"/>
<rect x="740" y="720" width="41" height="41" fill="#a6a6a6"/>
<rect x="780" y="720" width="41" height="41" fill="#bababa"/>
<rect x="820" y="720" width="41" height="41" fill="#cccccc"/>
<rect x="860" y="720" width="41" height="41" fill="#bfbfbf"/>
<rect x="900" y="720" width="41" height="41" fill="#d9d9d9"/>
<rect x="940" y="720" width="41" height="41" fill="#d1d1d1"/>
<rect x="980" y="720" width="41" height="41" fill="#b0b0b0"/>
<rect x="1020" y="720" width="41" height="41" fill="#858585"/>
<rect x="1060" y="720" width="41" height="41" fill="#a6a6a6"/>
<rect x="1100" y="720" width="41" height="41" fill="#a1a1a1"/>
<rect x="1140" y="720" width="41" height="41" fill="#ababab"/>
<rect x="1180" y="720" width="41" height="41" fill="#d9d9d9"/>
<rect x="1220" y="720" width="41" height="41" fill="#e6e6e6"/>
<rect x="1260" y="720" width="41" height="41" fill="#dedede"/>
<rect x="1300" y="720" width="41" height="41" fill="#cfcfcf"/>
<rect x="1340" y="720" width="41" height="41" fill="#a6a6a6"/>
<rect x="1380" y="720" width="41" height="41" fill="#adadad"/>
<rect x="1420" y="720" width="41" height="41" fill="#969696"/>
<rect x="1460" y="720" width="81" height="41" fill="#707070"/>
<rect x="300" y="760" width="41" height="41" fill="#919191"/>
<rect x="340" y="760" width="41" height="41" fill="#a6a6a6"/>
<rect x="380" y="760" width="41" height="41" fill="#ababab"/>
<rect x="420" y="760" width="41" height="41" fill="#a1a1a1"/>
<rect x="460" y="760" width="41" height="41" fill="#707070"/>
<rect x="500" y="760" width="41" height="41" fill="#919191"/>
<rect x="540" y="760" width="41" height="41" fill="#b0b0b0"/>
<rect x="580" y="760" width="121" height="41" fill="#bababa"/>
<rect x="700" y="760" width="41" height="41" fill="#a6a6a6"/>
<rect x="740" y="760" width="41" height="41" fill="#bfbfbf"/>
<rect x="780" y="760" width="41" height="41" fill="#bababa"/>
<rect x="820" y="760" width="41" height="41" fill="#b5b5b5"/>
<rect x="860" y="760" width="41" height="41" fill="#b0b0b0"/>
<rect x="900" y="760" width="41" height="41" fill="#9c9c9c"/>
<rect x="940" y="760" width="41" height="41" fill="#a1a1a1"/>
<rect x="980" y="760" width="41" height="41" fill="#bababa"/>
<rect x="1020" y="760" width="41" height="41" fill="#ababab"/>
<rect x="1060" y="760" width="41" height="41" fill="#858585"/>
<rect x="1100" y="760" width="41" height="41" fill="#707070"/>
<rect x="1140" y="760" width="41" height="41" fill="#919191"/>
<rect x="1180" y="760" width="41" height="41" fill="#d9d9d9"/>
<rect x="1220" y="760" width="41" height="41" fill="#ededed"/>
<rect x="1260" y="760" width="41" height="41" fill="#d9d9d9"/>
<rect x="1300" y="760" width="41" height="41" fill="#a6a6a6"/>
<rect x="1340" y="760" width="41" height="41" fill="#b2b2b2"/>
<rect x="1380" y="760" width="41" height="41" fill="#9c9c9c"/>
<rect x="1420" y="760" width="121" height="41" fill="#707070"/>
<rect x="300" y="800" width="41" height="41" fill="#a8a8a8"/>
<rect x="340" y="800" width="41" height="41" fill="#b2b2b2"/>
<rect x="380" y="800" width="41" height="41" fill="#bababa"/>
<rect x="420" y="800" width="41" height="41" fill="#a6a6a6"/>
<rect x="460" y="800" width="41" height="41" fill="#787878"/>
<rect x="500" y="800" width="41" height="41" fill="#a6a6a6"/>
<rect x="540" y="800" width="81" height="41" fill="#bfbfbf"/>
<rect x="620" y="800" width="41" height="41" fill="#cccccc"/>
<rect x="660" y="800" width="41" height="41" fill="#bababa"/>
<rect x="700" y="800" width="41" height="41" fill="#a6a6a6"/>
<rect x="740" y="800" width="81" height="41" fill="#b0b0b0"/>
<rect x="820" y="800" width="41" height="41" fill="#bababa"/>
<rect x="860" y="800" width="41" height="41" fill="#ababab"/>
<rect x="900" y="800" width="41" height="41" fill="#707070"/>
<rect x="940" y="800" width="41" height="41" fill="#7d7d7d"/>
<rect x="980" y="800" width="41" height="41" fill="#bababa"/>
<rect x="1020" y="800" width="41" height="41" fill="#9c9c9c"/>
<rect x="1060" y="800" width="81" height="41" fill="#595959"/>
<rect x="1140" y="800" width="41" height="41" fill="#969696"/>
<rect x="1180" y="800" width="41" height="41" fill="#dedede"/>
<rect x="1220" y="800" width="41" height="41" fill="#ededed"/>
<rect x="1260" y="800" width="41" height="41" fill="#e6e6e6"/>
<rect x="1300" y="800" width="41" height="41" fill="#bfbfbf"/>
<rect x="1340" y="800" width="41" height="41" fill="#a1a1a1"/>
<rect x="1380" y="800" width="161" height="41" fill="#707070"/>
<rect x="300" y="840" width="41" height="41" fill="#b5b5b5"/>
<rect x="340" y="840" width="41" height="41" fill="#bababa"/>
<rect x="380" y="840" width="41" height="41" fill="#b8b8b8"/>
<rect x="420" y="840" width="41" height="41" fill="#c4c4c4"/>
<rect x="460" y="840" width="41" height="41" fill="#b0b0b0"/>
<rect x="500" y="840" width="41" height="41" fill="#b5b5b5"/>
<rect x="540" y="840" width="41" height="41" fill="#bfbfbf"/>
<rect x="580" y="840" width="41" height="41" fill="#c4c4c4"/>
<rect x="620" y="840" width="41" height="41" fill="#b0b0b0"/>
<rect x="660" y="840" width="81" height="41" fill="#a6a6a6"/>
<rect x="740" y="840" width="121" height="41" fill="#b0b0b0"/>
<rect x="860" y="840" width="41" height="41" fill="#ababab"/>
<rect x="900" y="840" width="41" height="41" fill="#9c9c9c"/>
<rect x="940" y="840" width="41" height="41" fill="#8c8c8c"/>
<rect x="980" y="840" width="81" height="41" fill="#a6a6a6"/>
<rect x="1060" y="840" width="41" height="41" fill="#545454"/>
<rect x="1100" y="840" width="41" height="41" fill="#4f4f4f"/>
<rect x="1140" y="840" width="41" height="41" fill="#b5b5b5"/>
<rect x="1180" y="840" width="41" height="41" fill="#f2f2f2"/>
<rect x="1220" y="840" width="41" height="41" fill="#ededed"/>
<rect x="1260" y="840" width="41" height="41" fill="#fafafa"/>
<rect x="1300" y="840" width="41" height="41" fill="#b0b0b0"/>
<rect x="1340" y="840" width="201" height="41" fill="#707070"/>
<rect x="300" y="880" width="41" height="41" fill="#bababa"/>
<rect x="340" y="880" width="41" height="41" fill="#bdbdbd"/>
<rect x="380" y="880" width="41" height="41" fill="#c4c4c4"/>
<rect x="420" y="880" width="41" height="41" fill="#cfcfcf"/>
<rect x="460" y="880" width="41" height="41" fill="#dedede"/>
<rect x="500" y="880" width="41" height="41" fill="#fafafa"/>
<rect x="540" y="880" width="41" height="41" fill="#ededed"/>
<rect x="580" y="880" width="41" height="41" fill="#bfbfbf"/>
<rect x="620" y="880" width="41" height="41" fill="#858585"/>
<rect x="660" y="880" width="41" height="41" fill="#787878"/>
<rect x="700" y="880" width="41" height="41" fill="#9c9c9c"/>
<rect x="740" y="880" width="41" height="41" fill="#b5b5b5"/>
<rect x="780" y="880" width="41" height="41" fill="#ababab"/>
<rect x="820" y="880" width="41" height="41" fill="#a6a6a6"/>
<rect x="860" y="880" width="41" height="41" fill="#9c9c9c"/>
<rect x="900" y="880" width="41" height="41" fill="#ababab"/>
<rect x="940" y="880" width="41" height="41" fill="#b0b0b0"/>
<rect x="980" y="880" width="41" height="41" fill="#bababa"/>
<rect x="1020" y="880" width="41" height="41" fill="#b5b5b5"/>
<rect x="1060" y="880" width="41" height="41" fill="#707070"/>
<rect x="1100" y="880" width="41" height="41" fill="#787878"/>
<rect x="1140" y="880" width="41" height="41" fill="#cccccc"/>
<rect x="1180" y="880" width="81" height="41" fill="#ededed"/>
<rect x="1260" y="880" width="41" height="41" fill="#f2f2f2"/>
<rect x="1300" y="880" width="41" height="41" fill="#d9d9d9"/>
<rect x="1340" y="880" width="41" height="41" fill="#a8a8a8"/>
<rect x="1380" y="880" width="161" height="41" fill="#707070"/>
<rect x="300" y="920" width="41" height="41" fill="#bfbfbf"/>
<rect x="340" y="920" width="41" height="41" fill="#c4c4c4"/>
<rect x="380" y="920" width="41" height="41" fill="#d6d6d6"/>
<rect x="420" y="920" width="41" height="41" fill="#e3e3e3"/>
<rect x="460" y="920" width="41" height="41" fill="#e6e6e6"/>
<rect x="500" y="920" width="41" height="41" fill="#f2f2f2"/>
<rect x="540" y="920" width="41" height="41" fill="#e6e6e6"/>
<rect x="580" y="920" width="41" height="41" fill="#b5b5b5"/>
<rect x="620" y="920" width="41" height="41" fill="#969696"/>
<rect x="660" y="920" width="41" height="41" fill="#7d7d7d"/>
<rect x="700" y="920" width="41" height="41" fill="#a1a1a1"/>
<rect x="740" y="920" width="41" height="41" fill="#7d7d7d"/>
<rect x="780" y="920" width="41" height="41" fill="#6b6b6b"/>
<rect x="820" y="920" width="41" height="41" fill="#8c8c8c"/>
<rect x="860" y="920" width="41" height="41" fill="#787878"/>
<rect x="900" y="920" width="41" height="41" fill="#b5b5b5"/>
<rect x="940" y="920" width="41" height="41" fill="#7d7d7d"/>
<rect x="980" y="920" width="41" height="41" fill="#6b6b6b"/>
<rect x="1020" y="920" width="41" height="41" fill="#9c9c9c"/>
<rect x="1060" y="920" width="41" height="41" fill="#b0b0b0"/>
<rect x="1100" y="920" width="41" height="41" fill="#b5b5b5"/>
<rect x="1140" y="920" width="41" height="41" fill="#ababab"/>
<rect x="1180" y="920" width="41" height="41" fill="#d9d9d9"/>
<rect x="1220" y="920" width="41" height="41" fill="#a6a6a6"/>
<rect x="1260" y="920" width="41" height="41" fill="#919191"/>
<rect x="1300" y="920" width="41" height="41" fill="#c9c9c9"/>
<rect x="1340" y="920" width="41" height="41" fill="#d9d9d9"/>
<rect x="1380" y="920" width="41" height="41" fill="#a6a6a6"/>
<rect x="1420" y="920" width="121" height="41" fill="#707070"/>
<rect x="300" y="960" width="41" height="41" fill="#c4c4c4"/>
<rect x="340" y="960" width="41" height="41" fill="#d9d9d9"/>
<rect x="380" y="960" width="41" height="41" fill="#e3e3e3"/>
<rect x="420" y="960" width="41" height="41" fill="#e6e6e6"/>
<rect x="460" y="960" width="41" height="41" fill="#e0e0e0"/>
<rect x="500" y="960" width="41" height="41" fill="#c4c4c4"/>
<rect x="540" y="960" width="41" height="41" fill="#d1d1d1"/>
<rect x="580" y="960" width="41" height="41" fill="#ededed"/>
<rect x="620" y="960" width="41" height="41" fill="#e6e6e6"/>
<rect x="660" y="960" width="41" height="41" fill="#bfbfbf"/>
<rect x="700" y="960" width="41" height="41" fill="#a6a6a6"/>
<rect x="740" y="960" width="41" height="41" fill="#919191"/>
<rect x="780" y="960" width="41" height="41" fill="#858585"/>
<rect x="820" y="960" width="41" height="41" fill="#919191"/>
<rect x="860" y="960" width="41" height="41" fill="#858585"/>
<rect x="900" y="960" width="41" height="41" fill="#b0b0b0"/>
<rect x="940" y="960" width="41" height="41" fill="#a1a1a1"/>
<rect x="980" y="960" width="41" height="41" fill="#8c8c8c"/>
<rect x="1020" y="960" width="41" height="41" fill="#a6a6a6"/>
<rect x="1060" y="960" width="41" height="41" fill="#c4c4c4"/>
<rect x="1100" y="960" width="41" height="41" fill="#cccccc"/>
<rect x="1140" y="960" width="41" height="41" fill="#bababa"/>
<rect x="1180" y="960" width="41" height="41" fill="#cccccc"/>
<rect x="1220" y="960" width="41" height="41" fill="#8c8c8c"/>
<rect x="1260" y="960" width="41" height="41" fill="#969696"/>
<rect x="1300" y="960" width="41" height="41" fill="#919191"/>
<rect x="1340" y="960" width="41" height="41" fill="#bababa"/>
<rect x="1380" y="960" width="41" height="41" fill="#d9d9d9"/>
<rect x="1420" y="960" width="41" height="41" fill="#a6a6a6"/>
<rect x="1460" y="960" width="81" height="41" fill="#707070"/>
<rect x="300" y="1000" width="41" height="41" fill="#dbdbdb"/>
<rect x="340" y="1000" width="81" height="41" fill="#e6e6e6"/>
<rect x="420" y="1000" width="41" height="41" fill="#d9d9d9"/>
<rect x="460" y="1000" width="41" height="41" fill="#c4c4c4"/>
<rect x="500" y="1000" width="81" height="41" fill="#cccccc"/>
<rect x="580" y="1000" width="41" height="41" fill="#ededed"/>
<rect x="620" y="1000" width="41" height="41" fill="#cccccc"/>
<rect x="660" y="1000" width="41" height="41" fill="#b0b0b0"/>
<rect x="700" y="1000" width="41" height="41" fill="#bababa"/>
<rect x="740" y="1000" width="41" height="41" fill="#d1d1d1"/>
<rect x="780" y="1000" width="41" height="41" fill="#b5b5b5"/>
<rect x="820" y="1000" width="41" height="41" fill="#9c9c9c"/>
<rect x="860" y="1000" width="81" height="41" fill="#8c8c8c"/>
<rect x="940" y="1000" width="41" height="41" fill="#919191"/>
<rect x="980" y="1000" width="41" height="41" fill="#858585"/>
<rect x="1020" y="1000" width="41" height="41" fill="#919191"/>
<rect x="1060" y="1000" width="41" height="41" fill="#d9d9d9"/>
<rect x="1100" y="1000" width="41" height="41" fill="#e6e6e6"/>
<rect x="1140" y="1000" width="41" height="41" fill="#dedede"/>
<rect x="1180" y="1000" width="41" height="41" fill="#d9d9d9"/>
<rect x="1220" y="1000" width="41" height="41" fill="#bababa"/>
<rect x="1260" y="1000" width="41" height="41" fill="#8c8c8c"/>
<rect x="1300" y="1000" width="81" height="41" fill="#919191"/>
<rect x="1380" y="1000" width="41" height="41" fill="#b8b8b8"/>
<rect x="1420" y="1000" width="41" height="41" fill="#d9d9d9"/>
<rect x="1460" y="1000" width="41" height="41" fill="#a3a3a3"/>
<rect x="1500" y="1000" width="41" height="41" fill="#707070"/>
<rect x="300" y="1040" width="81" height="41" fill="#e6e6e6"/>
<rect x="380" y="1040" width="41" height="41" fill="#d6d6d6"/>
<rect x="420" y="1040" width="41" height="41" fill="#c4c4c4"/>
<rect x="460" y="1040" width="41" height="41" fill="#c9c9c9"/>
<rect x="500" y="1040" width="41" height="41" fill="#cccccc"/>
<rect x="540" y="1040" width="41" height="41" fill="#d4d4d4"/>
<rect x="580" y="1040" width="41" height="41" fill="#c4c4c4"/>
<rect x="620" y="1040" width="41" height="41" fill="#bfbfbf"/>
<rect x="660" y="1040" width="41" height="41" fill="#b5b5b5"/>
<rect x="700" y="1040" width="41" height="41" fill="#cccccc"/>
<rect x="740" y="1040" width="41" height="41" fill="#b0b0b0"/>
<rect x="780" y="1040" width="41" height="41" fill="#9c9c9c"/>
<rect x="820" y="1040" width="41" height="41" fill="#b0b0b0"/>
<rect x="860" y="1040" width="41" height="41" fill="#919191"/>
<rect x="900" y="1040" width="41" height="41" fill="#a1a1a1"/>
<rect x="940" y="1040" width="41" height="41" fill="#858585"/>
<rect x="980" y="1040" width="41" height="41" fill="#595959"/>
<rect x="1020" y="1040" width="41" height="41" fill="#666666"/>
<rect x="1060" y="1040" width="41" height="41" fill="#d1d1d1"/>
<rect x="1100" y="1040" width="41" height="41" fill="#ededed"/>
<rect x="1140" y="1040" width="41" height="41" fill="#dedede"/>
<rect x="1180" y="1040" width="41" height="41" fill="#dbdbdb"/>
<rect x="1220" y="1040" width="41" height="41" fill="#d9d9d9"/>
<rect x="1260" y="1040" width="41" height="41" fill="#b5b5b5"/>
<rect x="1300" y="1040" width="41" height="41" fill="#8c8c8c"/>
<rect x="1340" y="1040" width="41" height="41" fill="#8f8f8f"/>
<rect x="1380" y="1040" width="41" height="41" fill="#919191"/>
<rect x="1420" y="1040" width="41" height="41" fill="#b5b5b5"/>
<rect x="1460" y="1040" width="41" height="41" fill="#d9d9d9"/>
<rect x="300" y="1080" width="41" height="41" fill="#e6e6e6"/>
<rect x="340" y="1080" width="41" height="41" fill="#d6d6d6"/>
<rect x="380" y="1080" width="41" height="41" fill="#c4c4c4"/>
<rect x="420" y="1080" width="41" height="41" fill="#c9c9c9"/>
<rect x="460" y="1080" width="81" height="41" fill="#cccccc"/>
<rect x="540" y="1080" width="81" height="41" fill="#c4c4c4"/>
<rect x="620" y="1080" width="41" height="41" fill="#cccccc"/>
<rect x="660" y="1080" width="41" height="41" fill="#bfbfbf"/>
<rect x="700" y="1080" width="41" height="41" fill="#a1a1a1"/>
<rect x="740" y="1080" width="41" height="41" fill="#ababab"/>
<rect x="780" y="1080" width="81" height="41" fill="#b5b5b5"/>
<rect x="860" y="1080" width="41" height="41" fill="#9c9c9c"/>
<rect x="900" y="1080" width="41" height="41" fill="#7d7d7d"/>
<rect x="940" y="1080" width="41" height="41" fill="#b0b0b0"/>
<rect x="980" y="1080" width="41" height="41" fill="#e6e6e6"/>
<rect x="1020" y="1080" width="41" height="41" fill="#787878"/>
<rect x="1060" y="1080" width="41" height="41" fill="#a6a6a6"/>
<rect x="1100" y="1080" width="41" height="41" fill="#d1d1d1"/>
<rect x="1140" y="1080" width="41" height="41" fill="#e6e6e6"/>
<rect x="1180" y="1080" width="41" height="41" fill="#dedede"/>
<rect x="1220" y="1080" width="41" height="41" fill="#dbdbdb"/>
<rect x="1260" y="1080" width="41" height="41" fill="#d9d9d9"/>
<rect x="1300" y="1080" width="41" height="41" fill="#b2b2b2"/>
<rect x="1340" y="1080" width="41" height="41" fill="#8c8c8c"/>
<rect x="1380" y="1080" width="41" height="41" fill="#8f8f8f"/>
<rect x="1420" y="1080" width="41" height="41" fill="#919191"/>
<rect x="340" y="1120" width="41" height="41" fill="#c4c4c4"/>
<rect x="380" y="1120" width="41" height="41" fill="#c9c9c9"/>
<rect x="420" y="1120" width="41" height="41" fill="#cccccc"/>
<rect x="460" y="1120" width="41" height="41" fill="#c9c9c9"/>
<rect x="500" y="1120" width="41" height="41" fill="#c4c4c4"/>
<rect x="540" y="1120" width="41" height="41" fill="#c7c7c7"/>
<rect x="580" y="1120" width="41" height="41" fill="#cccccc"/>
<rect x="620" y="1120" width="41" height="41" fill="#d1d1d1"/>
<rect x="660" y="1120" width="41" height="41" fill="#ededed"/>
<rect x="700" y="1120" width="41" height="41" fill="#e6e6e6"/>
<rect x="740" y="1120" width="41" height="41" fill="#bababa"/>
<rect x="780" y="1120" width="41" height="41" fill="#c4c4c4"/>
<rect x="820" y="1120" width="41" height="41" fill="#b0b0b0"/>
<rect x="860" y="1120" width="41" height="41" fill="#9c9c9c"/>
<rect x="900" y="1120" width="41" height="41" fill="#919191"/>
<rect x="940" y="1120" width="41" height="41" fill="#bababa"/>
<rect x="980" y="1120" width="41" height="41" fill="#d9d9d9"/>
<rect x="1020" y="1120" width="41" height="41" fill="#9c9c9c"/>
<rect x="1060" y="1120" width="41" height="41" fill="#949494"/>
<rect x="1100" y="1120" width="41" height="41" fill="#a6a6a6"/>
<rect x="1140" y="1120" width="41" height="41" fill="#cfcfcf"/>
<rect x="1180" y="1120" width="41" height="41" fill="#e3e3e3"/>
<rect x="1220" y="1120" width="41" height="41" fill="#dedede"/>
<rect x="1260" y="1120" width="41" height="41" fill="#dbdbdb"/>
<rect x="1300" y="1120" width="41" height="41" fill="#d9d9d9"/>
<rect x="1340" y="1120" width="41" height="41" fill="#b2b2b2"/>
<rect x="1380" y="1120" width="41" height="41" fill="#8c8c8c"/>
<rect x="380" y="1160" width="41" height="41" fill="#cccccc"/>
<rect x="420" y="1160" width="41" height="41" fill="#c9c9c9"/>
<rect x="460" y="1160" width="41" height="41" fill="#c4c4c4"/>
<rect x="500" y="1160" width="41" height="41" fill="#c7c7c7"/>
<rect x="540" y="1160" width="41" height="41" fill="#cccccc"/>
<rect x="580" y="1160" width="41" height="41" fill="#d9d9d9"/>
<rect x="620" y="1160" width="41" height="41" fill="#ededed"/>
<rect x="660" y="1160" width="41" height="41" fill="#e3e3e3"/>
<rect x="700" y="1160" width="41" height="41" fill="#d9d9d9"/>
<rect x="740" y="1160" width="41" height="41" fill="#b5b5b5"/>
<rect x="780" y="1160" width="41" height="41" fill="#7d7d7d"/>
<rect x="820" y="1160" width="41" height="41" fill="#787878"/>
<rect x="860" y="1160" width="41" height="41" fill="#bababa"/>
<rect x="900" y="1160" width="41" height="41" fill="#cccccc"/>
<rect x="940" y="1160" width="41" height="41" fill="#dedede"/>
<rect x="980" y="1160" width="41" height="41" fill="#d1d1d1"/>
<rect x="1020" y="1160" width="41" height="41" fill="#c2c2c2"/>
<rect x="1060" y="1160" width="81" height="41" fill="#9c9c9c"/>
<rect x="1140" y="1160" width="41" height="41" fill="#a6a6a6"/>
<rect x="1180" y="1160" width="41" height="41" fill="#cfcfcf"/>
<rect x="1220" y="1160" width="41" height="41" fill="#e0e0e0"/>
<rect x="1260" y="1160" width="41" height="41" fill="#dedede"/>
<rect x="1300" y="1160" width="41" height="41" fill="#dbdbdb"/>
<rect x="1340" y="1160" width="41" height="41" fill="#d9d9d9"/>
<rect x="420" y="1200" width="41" height="41" fill="#c4c4c4"/>
<rect x="460" y="1200" width="41" height="41" fill="#c7c7c7"/>
<rect x="500" y="1200" width="41" height="41" fill="#cccccc"/>
<rect x="540" y="1200" width="41" height="41" fill="#dbdbdb"/>
<rect x="580" y="1200" width="41" height="41" fill="#ededed"/>
<rect x="620" y="1200" width="41" height="41" fill="#e3e3e3"/>
<rect x="660" y="1200" width="41" height="41" fill="#d9d9d9"/>
<rect x="700" y="1200" width="41" height="41" fill="#bababa"/>
<rect x="740" y="1200" width="41" height="41" fill="#a6a6a6"/>
<rect x="780" y="1200" width="41" height="41" fill="#5e5e5e"/>
<rect x="820" y="1200" width="41" height="41" fill="#595959"/>
<rect x="860" y="1200" width="41" height="41" fill="#c4c4c4"/>
<rect x="900" y="1200" width="41" height="41" fill="#d9d9d9"/>
<rect x="940" y="1200" width="41" height="41" fill="#e6e6e6"/>
<rect x="980" y="1200" width="41" height="41" fill="#dbdbdb"/>
<rect x="1020" y="1200" width="41" height="41" fill="#d1d1d1"/>
<rect x="1060" y="1200" width="41" height="41" fill="#bababa"/>
<rect x="1100" y="1200" width="41" height="41" fill="#9c9c9c"/>
<rect x="1140" y="1200" width="41" height="41" fill="#a1a1a1"/>
<rect x="1180" y="1200" width="41" height="41" fill="#a6a6a6"/>
<rect x="1220" y="1200" width="41" height="41" fill="#cccccc"/>
<rect x="1260" y="1200" width="41" height="41" fill="#e0e0e0"/>
<rect x="1300" y="1200" width="41" height="41" fill="#dedede"/>
<rect x="460" y="1240" width="41" height="41" fill="#cccccc"/>
<rect x="500" y="1240" width="41" height="41" fill="#dbdbdb"/>
<rect x="540" y="1240" width="41" height="41" fill="#ededed"/>
<rect x="580" y="1240" width="41" height="41" fill="#e3e3e3"/>
<rect x="620" y="1240" width="41" height="41" fill="#d9d9d9"/>
<rect x="660" y="1240" width="41" height="41" fill="#bdbdbd"/>
<rect x="700" y="1240" width="41" height="41" fill="#a6a6a6"/>
<rect x="740" y="1240" width="41" height="41" fill="#7d7d7d"/>
<rect x="780" y="1240" width="41" height="41" fill="#707070"/>
<rect x="820" y="1240" width="41" height="41" fill="#6b6b6b"/>
<rect x="860" y="1240" width="41" height="41" fill="#b0b0b0"/>
<rect x="900" y="1240" width="41" height="41" fill="#cccccc"/>
<rect x="940" y="1240" width="41" height="41" fill="#dedede"/>
<rect x="980" y="1240" width="41" height="41" fill="#e6e6e6"/>
<rect x="1020" y="1240" width="41" height="41" fill="#dbdbdb"/>
<rect x="1060" y="1240" width="41" height="41" fill="#d1d1d1"/>
<rect x="1100" y="1240" width="41" height="41" fill="#b8b8b8"/>
<rect x="1140" y="1240" width="41" height="41" fill="#9c9c9c"/>
<rect x="1180" y="1240" width="41" height="41" fill="#a1a1a1"/>
<rect x="1220" y="1240" width="41" height="41" fill="#a6a6a6"/>
<rect x="500" y="1280" width="41" height="41" fill="#ededed"/>
<rect x="540" y="1280" width="41" height="41" fill="#e3e3e3"/>
<rect x="580" y="1280" width="41" height="41" fill="#d9d9d9"/>
<rect x="620" y="1280" width="41" height="41" fill="#bfbfbf"/>
<rect x="660" y="1280" width="41" height="41" fill="#a6a6a6"/>
<rect x="700" y="1280" width="41" height="41" fill="#878787"/>
<rect x="740" y="1280" width="41" height="41" fill="#707070"/>
<rect x="780" y="1280" width="41" height="41" fill="#737373"/>
<rect x="820" y="1280" width="41" height="41" fill="#7d7d7d"/>
<rect x="860" y="1280" width="41" height="41" fill="#878787"/>
<rect x="900" y="1280" width="41" height="41" fill="#b0b0b0"/>
<rect x="940" y="1280" width="41" height="41" fill="#cfcfcf"/>
<rect x="980" y="1280" width="41" height="41" fill="#e3e3e3"/>
<rect x="1020" y="1280" width="41" height="41" fill="#e6e6e6"/>
<rect x="1060" y="1280" width="41" height="41" fill="#dbdbdb"/>
<rect x="1100" y="1280" width="41" height="41" fill="#d1d1d1"/>
<rect x="1140" y="1280" width="41" height="41" fill="#b8b8b8"/>
<rect x="1180" y="1280" width="41" height="41" fill="#9c9c9c"/>
<rect x="540" y="1320" width="41" height="41" fill="#d9d9d9"/>
<rect x="580" y="1320" width="41" height="41" fill="#bfbfbf"/>
<rect x="620" y="1320" width="41" height="41" fill="#a6a6a6"/>
<rect x="660" y="1320" width="41" height="41" fill="#8a8a8a"/>
<rect x="700" y="1320" width="41" height="41" fill="#707070"/>
<rect x="740" y="1320" width="41" height="41" fill="#757575"/>
<rect x="780" y="1320" width="121" height="41" fill="#7d7d7d"/>
<rect x="900" y="1320" width="41" height="41" fill="#919191"/>
<rect x="940" y="1320" width="41" height="41" fill="#b0b0b0"/>
<rect x="980" y="1320" width="41" height="41" fill="#d1d1d1"/>
<rect x="1020" y="1320" width="41" height="41" fill="#e3e3e3"/>
<rect x="1060" y="1320" width="41" height="41" fill="#e6e6e6"/>
<rect x="1100" y="1320" width="41" height="41" fill="#dbdbdb"/>
<rect x="1140" y="1320" width="41" height="41" fill="#d1d1d1"/>
<rect x="580" y="1360" width="41" height="41" fill="#a6a6a6"/>
<rect x="620" y="1360" width="41" height="41" fill="#8a8a8a"/>
<rect x="660" y="1360" width="41" height="41" fill="#707070"/>
<rect x="700" y="1360" width="41" height="41" fill="#757575"/>
<rect x="740" y="1360" width="201" height="41" fill="#7d7d7d"/>
<rect x="940" y="1360" width="41" height="41" fill="#949494"/>
<rect x="980" y="1360" width="41" height="41" fill="#b0b0b0"/>
<rect x="1020" y="1360" width="41" height="41" fill="#d1d1d1"/>
<rect x="1060" y="1360" width="81" height="41" fill="#e6e6e6"/>
<rect x="620" y="1400" width="41" height="41" fill="#707070"/>
<rect x="660" y="1400" width="41" height="41" fill="#787878"/>
<rect x="700" y="1400" width="281" height="41" fill="#7d7d7d"/>
<rect x="980" y="1400" width="41" height="41" fill="#969696"/>
<rect x="1020" y="1400" width="41" height="41" fill="#b0b0b0"/>
<rect x="660" y="1440" width="361" height="41" fill="#7d7d7d"/>
<ellipse cx="903" cy="646" rx="16" ry="13" fill="#666666"/>
<ellipse cx="1032" cy="713" rx="8" ry="18" fill="#6b6b6b"/>
<ellipse cx="939" cy="816" rx="12" ry="22" fill="#666666"/>
<ellipse cx="783" cy="939" rx="14" ry="20" fill="#666666"/>
<ellipse cx="863" cy="946" rx="9" ry="10" fill="#737373"/>
<ellipse cx="982" cy="946" rx="18" ry="16" fill="#666666"/>
<ellipse cx="896" cy="982" rx="8" ry="8" fill="#737373"/>
<ellipse cx="1088" cy="859" rx="20" ry="35" fill="#616161"/>
<ellipse cx="473" cy="790" rx="10" ry="18" fill="#6b6b6b"/>
<ellipse cx="658" cy="916" rx="14" ry="12" fill="#666666"/>
<ellipse cx="822" cy="1213" rx="22" ry="34" fill="#5e5e5e"/>
<ellipse cx="966" cy="330" rx="12" ry="10" fill="#6b6b6b"/>
<ellipse cx="959" cy="486" rx="18" ry="22" fill="#696969"/>
<ellipse cx="1072" cy="540" rx="28" ry="28" fill="#5c5c5c"/>
</g>
</g>
<g clip-path="url(#clipHM)"><g filter="url(#soft)">
<ellipse cx="1280" cy="855" rx="30" ry="26" fill="#200" opacity="0.30"/>
<ellipse cx="1207" cy="850" rx="26" ry="34" fill="#200" opacity="0.26"/>
<ellipse cx="525" cy="918" rx="36" ry="28" fill="#200" opacity="0.30" transform="rotate(20 525 918)"/>
<ellipse cx="1240" cy="800" rx="40" ry="40" fill="#200" opacity="0.10"/>
<ellipse cx="1060" cy="1040" rx="20" ry="30" fill="#200" opacity="0.10"/>
<ellipse cx="790" cy="1000" rx="24" ry="24" fill="#200" opacity="0.12"/>
</g></g>
<g stroke="#5a5a5a" stroke-width="1.1" fill="none" opacity="0.85">
<line x1="349.4" y1="71.9" x2="361.3" y2="1811.3"/>
<line x1="601.0" y1="70.5" x2="619.0" y2="1808.6"/>
<line x1="853.2" y1="67.2" x2="876.4" y2="1805.3"/>
<line x1="1104.7" y1="63.9" x2="1134.6" y2="1801.3"/>
<line x1="1356.3" y1="58.6" x2="1392.2" y2="1797.4"/>
<line x1="1608.6" y1="53.3" x2="1649.8" y2="1791.4"/>
<path d="M236.8 131.5Q935.9 127.5 1634.9 110.6"/>
<path d="M238.2 421.9Q939.9 417.3 1641.5 399.9"/>
<path d="M239.9 711.2Q944.6 707.1 1649.2 690.2"/>
<path d="M241.3 1001.1Q948.4 997.2 1655.5 980.5"/>
<path d="M242.7 1291.1Q952.6 1286.8 1662.5 1269.8"/>
<path d="M244.1 1581.1Q956.9 1576.8 1669.8 1559.8"/>
</g>
<polygon points="1019.0,242.0 1460.0,959.0 727.0,1413.0 289.8,690.0" fill="none" stroke="#05820a" stroke-width="8.1" stroke-linejoin="miter"/>
<polygon points="964.0,187.5 1512.0,805.5 842.5,1400.0 295.0,782.0" fill="none" stroke="#34cc14" stroke-width="6.5" stroke-linejoin="miter" opacity="0.92"/>
<rect x="234.1" y="50.0" width="1444.2" height="1767.0" fill="none" stroke="#2a2a2a" stroke-width="1.15"/>
<rect x="1701.0" y="50.00" width="44.9" height="28.21" fill="#960000"/>
<rect x="1701.0" y="77.61" width="44.9" height="28.21" fill="#aa0000"/>
<rect x="1701.0" y="105.22" width="44.9" height="28.21" fill="#b90000"/>
<rect x="1701.0" y="132.83" width="44.9" height="28.21" fill="#cd0000"/>
<rect x="1701.0" y="160.44" width="44.9" height="28.21" fill="#de0000"/>
<rect x="1701.0" y="188.05" width="44.9" height="28.21" fill="#f50000"/>
<rect x="1701.0" y="215.66" width="44.9" height="28.21" fill="#ff0000"/>
<rect x="1701.0" y="243.27" width="44.9" height="28.21" fill="#ff0000"/>
<rect x="1701.0" y="270.88" width="44.9" height="28.21" fill="#ff0000"/>
<rect x="1701.0" y="298.48" width="44.9" height="28.21" fill="#ff0c00"/>
<rect x="1701.0" y="326.09" width="44.9" height="28.21" fill="#ff1c00"/>
<rect x="1701.0" y="353.70" width="44.9" height="28.21" fill="#ff2c00"/>
<rect x="1701.0" y="381.31" width="44.9" height="28.21" fill="#ff3c00"/>
<rect x="1701.0" y="408.92" width="44.9" height="28.21" fill="#ff4c00"/>
<rect x="1701.0" y="436.53" width="44.9" height="28.21" fill="#ff6000"/>
<rect x="1701.0" y="464.14" width="44.9" height="28.21" fill="#ff7000"/>
<rect x="1701.0" y="491.75" width="44.9" height="28.21" fill="#ff8000"/>
<rect x="1701.0" y="519.36" width="44.9" height="28.21" fill="#ff9000"/>
<rect x="1701.0" y="546.97" width="44.9" height="28.21" fill="#ffa000"/>
<rect x="1701.0" y="574.58" width="44.9" height="28.21" fill="#ffb000"/>
<rect x="1701.0" y="602.19" width="44.9" height="28.21" fill="#ffc000"/>
<rect x="1701.0" y="629.80" width="44.9" height="28.21" fill="#ffd000"/>
<rect x="1701.0" y="657.41" width="44.9" height="28.21" fill="#ffe000"/>
<rect x="1701.0" y="685.02" width="44.9" height="28.21" fill="#fff000"/>
<rect x="1701.0" y="712.62" width="44.9" height="28.21" fill="#ffff00"/>
<rect x="1701.0" y="740.23" width="44.9" height="28.21" fill="#e8ff00"/>
<rect x="1701.0" y="767.84" width="44.9" height="28.21" fill="#cdff00"/>
<rect x="1701.0" y="795.45" width="44.9" height="28.21" fill="#b4ff00"/>
<rect x="1701.0" y="823.06" width="44.9" height="28.21" fill="#9bff1e"/>
<rect x="1701.0" y="850.67" width="44.9" height="28.21" fill="#7dff37"/>
<rect x="1701.0" y="878.28" width="44.9" height="28.21" fill="#64ff46"/>
<rect x="1701.0" y="905.89" width="44.9" height="28.21" fill="#00ff5d"/>
<rect x="1701.0" y="933.50" width="44.9" height="28.21" fill="#00ff6f"/>
<rect x="1701.0" y="961.11" width="44.9" height="28.21" fill="#00ff81"/>
<rect x="1701.0" y="988.72" width="44.9" height="28.21" fill="#00ff93"/>
<rect x="1701.0" y="1016.33" width="44.9" height="28.21" fill="#00ffa5"/>
<rect x="1701.0" y="1043.94" width="44.9" height="28.21" fill="#00ffb7"/>
<rect x="1701.0" y="1071.55" width="44.9" height="28.21" fill="#00ffc9"/>
<rect x="1701.0" y="1099.16" width="44.9" height="28.21" fill="#00ffdb"/>
<rect x="1701.0" y="1126.77" width="44.9" height="28.21" fill="#00ffed"/>
<rect x="1701.0" y="1154.38" width="44.9" height="28.21" fill="#00ffff"/>
<rect x="1701.0" y="1181.98" width="44.9" height="28.21" fill="#00f0ff"/>
<rect x="1701.0" y="1209.59" width="44.9" height="28.21" fill="#00e0ff"/>
<rect x="1701.0" y="1237.20" width="44.9" height="28.21" fill="#00d0ff"/>
<rect x="1701.0" y="1264.81" width="44.9" height="28.21" fill="#00c0ff"/>
<rect x="1701.0" y="1292.42" width="44.9" height="28.21" fill="#00b0ff"/>
<rect x="1701.0" y="1320.03" width="44.9" height="28.21" fill="#00a0ff"/>
<rect x="1701.0" y="1347.64" width="44.9" height="28.21" fill="#0090ff"/>
<rect x="1701.0" y="1375.25" width="44.9" height="28.21" fill="#0080ff"/>
<rect x="1701.0" y="1402.86" width="44.9" height="28.21" fill="#0070ff"/>
<rect x="1701.0" y="1430.47" width="44.9" height="28.21" fill="#0060ff"/>
<rect x="1701.0" y="1458.08" width="44.9" height="28.21" fill="#0050ff"/>
<rect x="1701.0" y="1485.69" width="44.9" height="28.21" fill="#0040ff"/>
<rect x="1701.0" y="1513.30" width="44.9" height="28.21" fill="#0030ff"/>
<rect x="1701.0" y="1540.91" width="44.9" height="28.21" fill="#0020ff"/>
<rect x="1701.0" y="1568.52" width="44.9" height="28.21" fill="#0010ff"/>
<rect x="1701.0" y="1596.12" width="44.9" height="28.21" fill="#0000ff"/>
<rect x="1701.0" y="1623.73" width="44.9" height="28.21" fill="#0000f0"/>
<rect x="1701.0" y="1651.34" width="44.9" height="28.21" fill="#0000e1"/>
<rect x="1701.0" y="1678.95" width="44.9" height="28.21" fill="#0000d2"/>
<rect x="1701.0" y="1706.56" width="44.9" height="28.21" fill="#0000c3"/>
<rect x="1701.0" y="1734.17" width="44.9" height="28.21" fill="#0000b4"/>
<rect x="1701.0" y="1761.78" width="44.9" height="28.21" fill="#0000a5"/>
<rect x="1701.0" y="1789.39" width="44.9" height="27.61" fill="#000096"/>
<rect x="1701.0" y="50.0" width="44.9" height="1767.0" fill="none" stroke="#333" stroke-width="1.2"/>
<g font-family='"Liberation Serif", "DejaVu Serif", serif' font-weight="bold" font-size="53.2" fill="#222">
<text x="1759.9" y="1835.2">0</text>
<line x1="1727.9" y1="1640.3" x2="1745.9" y2="1640.3" stroke="#222" stroke-width="1.1"/>
<text x="1759.9" y="1658.5">0.1</text>
<line x1="1727.9" y1="1463.6" x2="1745.9" y2="1463.6" stroke="#222" stroke-width="1.1"/>
<text x="1759.9" y="1481.8">0.2</text>
<line x1="1727.9" y1="1286.9" x2="1745.9" y2="1286.9" stroke="#222" stroke-width="1.1"/>
<text x="1759.9" y="1305.2">0.3</text>
<line x1="1727.9" y1="1110.2" x2="1745.9" y2="1110.2" stroke="#222" stroke-width="1.1"/>
<text x="1759.9" y="1128.5">0.4</text>
<line x1="1727.9" y1="933.5" x2="1745.9" y2="933.5" stroke="#222" stroke-width="1.1"/>
<text x="1759.9" y="951.8">0.5</text>
<line x1="1727.9" y1="756.8" x2="1745.9" y2="756.8" stroke="#222" stroke-width="1.1"/>
<text x="1759.9" y="775.0">0.6</text>
<line x1="1727.9" y1="580.1" x2="1745.9" y2="580.1" stroke="#222" stroke-width="1.1"/>
<text x="1759.9" y="598.3">0.7</text>
<line x1="1727.9" y1="403.4" x2="1745.9" y2="403.4" stroke="#222" stroke-width="1.1"/>
<text x="1759.9" y="421.7">0.8</text>
<line x1="1727.9" y1="226.7" x2="1745.9" y2="226.7" stroke="#222" stroke-width="1.1"/>
<text x="1759.9" y="245.0">0.9</text>
<text x="1759.9" y="68.2">1</text>
<text transform="translate(1883.4 931.2) rotate(-90)" text-anchor="middle" font-size="54">Entropy</text>
<text x="209.8" y="162.2" text-anchor="end">77.45<tspan font-weight="normal" font-size="49.2" dy="-22.0" dx="-1.5">°</tspan><tspan dy="22.0" dx="-1.5"> N</tspan></text>
<text x="211.2" y="452.6" text-anchor="end">77.40<tspan font-weight="normal" font-size="49.2" dy="-22.0" dx="-1.5">°</tspan><tspan dy="22.0" dx="-1.5"> N</tspan></text>
<text x="212.9" y="742.0" text-anchor="end">77.35<tspan font-weight="normal" font-size="49.2" dy="-22.0" dx="-1.5">°</tspan><tspan dy="22.0" dx="-1.5"> N</tspan></text>
<text x="214.3" y="1031.8" text-anchor="end">77.30<tspan font-weight="normal" font-size="49.2" dy="-22.0" dx="-1.5">°</tspan><tspan dy="22.0" dx="-1.5"> N</tspan></text>
<text x="215.7" y="1321.8" text-anchor="end">77.25<tspan font-weight="normal" font-size="49.2" dy="-22.0" dx="-1.5">°</tspan><tspan dy="22.0" dx="-1.5"> N</tspan></text>
<text x="217.1" y="1611.8" text-anchor="end">77.20<tspan font-weight="normal" font-size="49.2" dy="-22.0" dx="-1.5">°</tspan><tspan dy="22.0" dx="-1.5"> N</tspan></text>
<text x="368.8" y="1943.0" text-anchor="middle">146.60<tspan font-weight="normal" font-size="49.2" dy="-22.0" dx="-1.5">°</tspan><tspan dy="22.0" dx="-1.5"> W</tspan></text>
<text x="626.1" y="1939.9" text-anchor="middle">146.40<tspan font-weight="normal" font-size="49.2" dy="-22.0" dx="-1.5">°</tspan><tspan dy="22.0" dx="-1.5"> W</tspan></text>
<text x="883.1" y="1936.2" text-anchor="middle">146.20<tspan font-weight="normal" font-size="49.2" dy="-22.0" dx="-1.5">°</tspan><tspan dy="22.0" dx="-1.5"> W</tspan></text>
<text x="1140.9" y="1931.8" text-anchor="middle">146.00<tspan font-weight="normal" font-size="49.2" dy="-22.0" dx="-1.5">°</tspan><tspan dy="22.0" dx="-1.5"> W</tspan></text>
<text x="1398.1" y="1927.5" text-anchor="middle">145.80<tspan font-weight="normal" font-size="49.2" dy="-22.0" dx="-1.5">°</tspan><tspan dy="22.0" dx="-1.5"> W</tspan></text>
<text x="1655.3" y="1921.2" text-anchor="middle">145.60<tspan font-weight="normal" font-size="49.2" dy="-22.0" dx="-1.5">°</tspan><tspan dy="22.0" dx="-1.5"> W</tspan></text>
</g>
<g stroke="#333" stroke-width="1.3" fill="none">
<line x1="1248.3" y1="1639.3" x2="1508.8" y2="1639.3"/>
<line x1="1248.3" y1="1639.9" x2="1248.3" y2="1628.3"/>
<line x1="1300.4" y1="1639.9" x2="1300.4" y2="1628.3"/>
<line x1="1352.5" y1="1639.9" x2="1352.5" y2="1628.3"/>
<line x1="1404.6" y1="1639.9" x2="1404.6" y2="1628.3"/>
<line x1="1508.8" y1="1639.9" x2="1508.8" y2="1628.3"/>
<line x1="1261.3" y1="1639.3" x2="1261.3" y2="1632.3"/>
<line x1="1274.4" y1="1639.3" x2="1274.4" y2="1632.3"/>
<line x1="1287.4" y1="1639.3" x2="1287.4" y2="1632.3"/>
</g>
<g font-family='"Liberation Serif", "DejaVu Serif", serif' font-weight="bold" font-size="52.5" fill="#000" text-anchor="middle">
<text x="1248.3" y="1618.2">1</text>
<text x="1300.4" y="1618.2">0</text>
<text x="1352.5" y="1618.2">1</text>
<text x="1404.6" y="1618.2">2</text>
<text x="1479.6" y="1618.2" text-anchor="start">4 km</text>
</g>
</g>
<g font-family='"Liberation Serif", "DejaVu Serif", serif' font-size="84" fill="#000" text-anchor="middle">
<text x="975.5" y="2034.5" font-size="86">(<tspan font-weight="bold" font-size="88" dx="0">d</tspan><tspan dx="0">)</tspan></text>
<text x="975.5" y="4079.5" font-size="86">(<tspan font-weight="bold" font-size="88" dx="-0.5">e</tspan><tspan dx="-0.5">)</tspan></text>
</g>
</svg>
</body></html>
